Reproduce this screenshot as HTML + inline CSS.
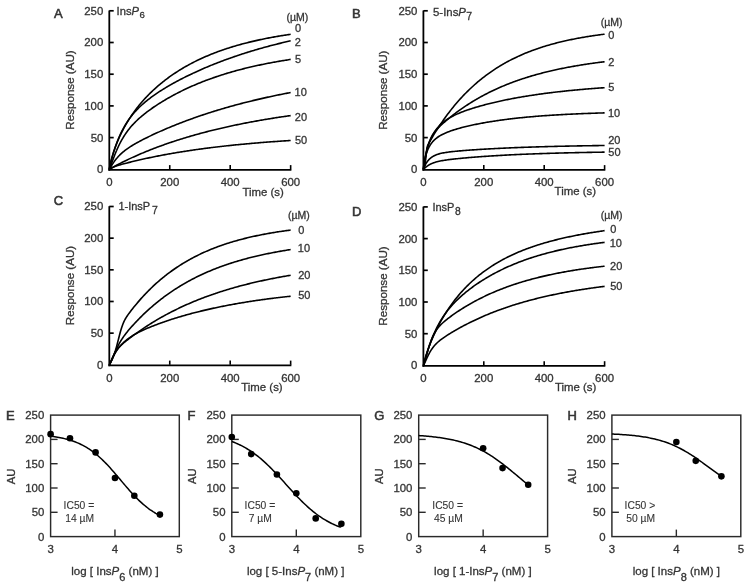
<!DOCTYPE html>
<html><head><meta charset="utf-8"><style>
html,body{margin:0;padding:0;background:#fff;}
body{width:751px;height:588px;overflow:hidden;}
svg{display:block;font-family:"Liberation Sans",sans-serif;filter:blur(0.4px);}
text{stroke:#333;stroke-width:0.3px;paint-order:stroke;}
</style></head><body>
<svg width="751" height="588" viewBox="0 0 751 588">
<rect width="751" height="588" fill="#fff"/>
<line x1="109.3" y1="10.5" x2="109.3" y2="170.7" stroke="#000" stroke-width="1.8"/>
<line x1="108.4" y1="169.8" x2="291.4" y2="169.8" stroke="#000" stroke-width="1.8"/>
<line x1="109.3" y1="137.6" x2="113.7" y2="137.6" stroke="#000" stroke-width="1.7"/>
<line x1="109.3" y1="105.9" x2="113.7" y2="105.9" stroke="#000" stroke-width="1.7"/>
<line x1="109.3" y1="74.2" x2="113.7" y2="74.2" stroke="#000" stroke-width="1.7"/>
<line x1="109.3" y1="42.5" x2="113.7" y2="42.5" stroke="#000" stroke-width="1.7"/>
<line x1="109.3" y1="10.8" x2="113.7" y2="10.8" stroke="#000" stroke-width="1.7"/>
<line x1="169.75" y1="169.3" x2="169.75" y2="165.1" stroke="#000" stroke-width="1.6"/>
<line x1="230.2" y1="169.3" x2="230.2" y2="165.1" stroke="#000" stroke-width="1.6"/>
<line x1="290.65" y1="169.3" x2="290.65" y2="165.1" stroke="#000" stroke-width="1.6"/>
<text x="103.3" y="173.2" font-size="11.4" text-anchor="end" fill="#333" >0</text>
<text x="103.3" y="141.5" font-size="11.4" text-anchor="end" fill="#333" >50</text>
<text x="103.3" y="109.8" font-size="11.4" text-anchor="end" fill="#333" >100</text>
<text x="103.3" y="78.1" font-size="11.4" text-anchor="end" fill="#333" >150</text>
<text x="103.3" y="46.4" font-size="11.4" text-anchor="end" fill="#333" >200</text>
<text x="103.3" y="14.7" font-size="11.4" text-anchor="end" fill="#333" >250</text>
<text x="109.3" y="186.3" font-size="11.4" text-anchor="middle" fill="#333" >0</text>
<text x="169.75" y="186.3" font-size="11.4" text-anchor="middle" fill="#333" >200</text>
<text x="230.2" y="186.3" font-size="11.4" text-anchor="middle" fill="#333" >400</text>
<text x="290.65" y="186.3" font-size="11.4" text-anchor="middle" fill="#333" >600</text>
<text x="242.5" y="195.5" font-size="11.4" text-anchor="start" fill="#333" >Time (s)</text>
<text x="0" y="0" font-size="11.6" text-anchor="middle" fill="#333" transform="translate(73.6,90) rotate(-90)">Response (AU)</text>
<text x="54" y="17.9" font-size="13" text-anchor="start" fill="#333" style="stroke-width:0.55px">A</text>
<text x="116.6" y="14.8" font-size="11.2" fill="#333">Ins<tspan font-style="italic">P</tspan><tspan dx="0.5" dy="3.0" font-size="9.6">6</tspan></text>
<text x="286.5" y="20.6" font-size="10.5" text-anchor="start" fill="#333" >(µM)</text>
<path d="M109.3,169.3 L109.45,168.15 L109.6,167.26 L109.75,166.45 L109.9,165.69 L110.06,164.96 L110.21,164.27 L110.36,163.6 L110.51,162.94 L110.66,162.31 L110.81,161.69 L110.96,161.09 L111.11,160.49 L111.26,159.91 L111.42,159.35 L111.57,158.79 L111.72,158.24 L111.87,157.7 L112.02,157.17 L112.17,156.64 L112.32,156.13 L112.47,155.62 L112.62,155.12 L112.78,154.62 L112.93,154.13 L113.08,153.65 L113.23,153.18 L113.38,152.7 L113.53,152.24 L113.68,151.78 L113.83,151.32 L113.98,150.87 L114.14,150.43 L114.29,149.99 L114.44,149.55 L114.59,149.12 L114.74,148.69 L114.89,148.27 L115.04,147.85 L115.19,147.43 L115.34,147.02 L115.5,146.61 L115.65,146.21 L115.8,145.81 L115.95,145.41 L116.1,145.02 L116.25,144.63 L116.4,144.24 L116.55,143.86 L116.71,143.48 L116.86,143.1 L117.01,142.72 L117.16,142.35 L117.31,141.98 L117.46,141.61 L117.61,141.25 L117.76,140.89 L117.91,140.53 L118.07,140.18 L118.22,139.82 L118.37,139.47 L118.52,139.12 L119.6,136.7 L120.68,134.38 L121.77,132.17 L122.85,130.05 L123.93,128 L125.01,126.04 L126.1,124.14 L127.18,122.31 L128.26,120.53 L129.34,118.81 L130.43,117.15 L131.51,115.53 L132.59,113.96 L133.67,112.43 L134.76,110.94 L135.84,109.49 L136.92,108.07 L138.01,106.7 L139.09,105.35 L140.17,104.03 L141.25,102.75 L142.34,101.49 L143.42,100.27 L144.5,99.07 L145.58,97.89 L146.67,96.74 L147.75,95.61 L148.83,94.5 L149.91,93.42 L151,92.36 L152.08,91.32 L153.16,90.29 L154.24,89.29 L155.33,88.31 L156.41,87.34 L157.49,86.39 L158.57,85.46 L159.66,84.54 L160.74,83.64 L161.82,82.76 L162.9,81.89 L163.99,81.03 L165.07,80.19 L166.15,79.37 L167.24,78.55 L168.32,77.76 L169.4,76.97 L170.48,76.2 L171.57,75.44 L172.65,74.69 L173.73,73.95 L174.81,73.22 L175.9,72.51 L176.98,71.81 L178.06,71.12 L179.14,70.43 L180.23,69.76 L181.31,69.1 L182.39,68.45 L183.47,67.81 L184.56,67.18 L185.64,66.56 L186.72,65.95 L187.8,65.35 L188.89,64.75 L189.97,64.17 L191.05,63.59 L192.13,63.02 L193.22,62.46 L194.3,61.91 L195.38,61.37 L196.46,60.84 L197.55,60.31 L198.63,59.79 L199.71,59.28 L200.8,58.77 L201.88,58.27 L202.96,57.78 L204.04,57.3 L205.13,56.82 L206.21,56.35 L207.29,55.89 L208.37,55.44 L209.46,54.99 L210.54,54.54 L211.62,54.11 L212.7,53.67 L213.79,53.25 L214.87,52.83 L215.95,52.42 L217.03,52.01 L218.12,51.61 L219.2,51.22 L220.28,50.83 L221.36,50.44 L222.45,50.06 L223.53,49.69 L224.61,49.32 L225.69,48.96 L226.78,48.6 L227.86,48.24 L228.94,47.9 L230.03,47.55 L231.11,47.21 L232.19,46.88 L233.27,46.55 L234.36,46.23 L235.44,45.91 L236.52,45.59 L237.6,45.28 L238.69,44.97 L239.77,44.67 L240.85,44.37 L241.93,44.08 L243.02,43.79 L244.1,43.5 L245.18,43.22 L246.26,42.94 L247.35,42.66 L248.43,42.39 L249.51,42.13 L250.59,41.86 L251.68,41.6 L252.76,41.35 L253.84,41.1 L254.92,40.85 L256.01,40.6 L257.09,40.36 L258.17,40.12 L259.25,39.88 L260.34,39.65 L261.42,39.42 L262.5,39.2 L263.59,38.97 L264.67,38.75 L265.75,38.54 L266.83,38.32 L267.92,38.11 L269,37.9 L270.08,37.7 L271.16,37.5 L272.25,37.3 L273.33,37.1 L274.41,36.91 L275.49,36.71 L276.58,36.53 L277.66,36.34 L278.74,36.16 L279.82,35.97 L280.91,35.8 L281.99,35.62 L283.07,35.45 L284.15,35.27 L285.24,35.11 L286.32,34.94 L287.4,34.77 L288.48,34.61 L289.57,34.45 L290.65,34.29" fill="none" stroke="#000" stroke-width="1.6" stroke-linejoin="round" stroke-linecap="butt"/>
<text x="294.97" y="32" font-size="11" text-anchor="start" fill="#333" >0</text>
<path d="M109.3,169.3 L109.45,168.55 L109.6,167.83 L109.75,167.13 L109.9,166.45 L110.06,165.78 L110.21,165.12 L110.36,164.47 L110.51,163.83 L110.66,163.19 L110.81,162.57 L110.96,161.96 L111.11,161.35 L111.26,160.75 L111.42,160.16 L111.57,159.57 L111.72,158.99 L111.87,158.42 L112.02,157.86 L112.17,157.3 L112.32,156.75 L112.47,156.21 L112.62,155.67 L112.78,155.13 L112.93,154.61 L113.08,154.09 L113.23,153.57 L113.38,153.06 L113.53,152.56 L113.68,152.06 L113.83,151.57 L113.98,151.08 L114.14,150.59 L114.29,150.12 L114.44,149.64 L114.59,149.17 L114.74,148.71 L114.89,148.25 L115.04,147.8 L115.19,147.35 L115.34,146.9 L115.5,146.46 L115.65,146.03 L115.8,145.6 L115.95,145.17 L116.1,144.74 L116.25,144.32 L116.4,143.91 L116.55,143.5 L116.71,143.09 L116.86,142.69 L117.01,142.29 L117.16,141.89 L117.31,141.5 L117.46,141.11 L117.61,140.73 L117.76,140.35 L117.91,139.97 L118.07,139.59 L118.22,139.22 L118.37,138.85 L118.52,138.49 L119.6,135.97 L120.68,133.61 L121.77,131.39 L122.85,129.29 L123.93,127.31 L125.01,125.44 L126.1,123.66 L127.18,121.97 L128.26,120.36 L129.34,118.83 L130.43,117.36 L131.51,115.96 L132.59,114.61 L133.67,113.32 L134.76,112.08 L135.84,110.89 L136.92,109.73 L138.01,108.62 L139.09,107.54 L140.17,106.5 L141.25,105.48 L142.34,104.5 L143.42,103.54 L144.5,102.61 L145.58,101.7 L146.67,100.81 L147.75,99.94 L148.83,99.09 L149.91,98.26 L151,97.45 L152.08,96.65 L153.16,95.87 L154.24,95.1 L155.33,94.35 L156.41,93.61 L157.49,92.88 L158.57,92.16 L159.66,91.45 L160.74,90.75 L161.82,90.06 L162.9,89.39 L163.99,88.72 L165.07,88.06 L166.15,87.4 L167.24,86.76 L168.32,86.12 L169.4,85.49 L170.48,84.87 L171.57,84.26 L172.65,83.65 L173.73,83.05 L174.81,82.45 L175.9,81.86 L176.98,81.28 L178.06,80.7 L179.14,80.13 L180.23,79.56 L181.31,79 L182.39,78.44 L183.47,77.89 L184.56,77.35 L185.64,76.8 L186.72,76.27 L187.8,75.74 L188.89,75.21 L189.97,74.69 L191.05,74.17 L192.13,73.66 L193.22,73.15 L194.3,72.65 L195.38,72.15 L196.46,71.65 L197.55,71.16 L198.63,70.67 L199.71,70.19 L200.8,69.71 L201.88,69.24 L202.96,68.76 L204.04,68.3 L205.13,67.83 L206.21,67.37 L207.29,66.92 L208.37,66.46 L209.46,66.02 L210.54,65.57 L211.62,65.13 L212.7,64.69 L213.79,64.26 L214.87,63.83 L215.95,63.4 L217.03,62.98 L218.12,62.55 L219.2,62.14 L220.28,61.72 L221.36,61.31 L222.45,60.91 L223.53,60.5 L224.61,60.1 L225.69,59.7 L226.78,59.31 L227.86,58.92 L228.94,58.53 L230.03,58.14 L231.11,57.76 L232.19,57.38 L233.27,57.01 L234.36,56.63 L235.44,56.26 L236.52,55.9 L237.6,55.53 L238.69,55.17 L239.77,54.81 L240.85,54.46 L241.93,54.1 L243.02,53.75 L244.1,53.41 L245.18,53.06 L246.26,52.72 L247.35,52.38 L248.43,52.05 L249.51,51.71 L250.59,51.38 L251.68,51.05 L252.76,50.73 L253.84,50.4 L254.92,50.08 L256.01,49.76 L257.09,49.45 L258.17,49.13 L259.25,48.82 L260.34,48.52 L261.42,48.21 L262.5,47.91 L263.59,47.6 L264.67,47.31 L265.75,47.01 L266.83,46.72 L267.92,46.42 L269,46.13 L270.08,45.85 L271.16,45.56 L272.25,45.28 L273.33,45 L274.41,44.72 L275.49,44.45 L276.58,44.17 L277.66,43.9 L278.74,43.63 L279.82,43.36 L280.91,43.1 L281.99,42.83 L283.07,42.57 L284.15,42.31 L285.24,42.06 L286.32,41.8 L287.4,41.55 L288.48,41.3 L289.57,41.05 L290.65,40.8" fill="none" stroke="#000" stroke-width="1.6" stroke-linejoin="round" stroke-linecap="butt"/>
<text x="294.85" y="45.8" font-size="11" text-anchor="start" fill="#333" >2</text>
<path d="M109.3,169.3 L109.45,168.98 L109.6,168.63 L109.75,168.25 L109.9,167.87 L110.06,167.48 L110.21,167.08 L110.36,166.67 L110.51,166.26 L110.66,165.85 L110.81,165.44 L110.96,165.03 L111.11,164.61 L111.26,164.2 L111.42,163.78 L111.57,163.37 L111.72,162.95 L111.87,162.54 L112.02,162.12 L112.17,161.71 L112.32,161.3 L112.47,160.89 L112.62,160.48 L112.78,160.07 L112.93,159.66 L113.08,159.26 L113.23,158.86 L113.38,158.46 L113.53,158.06 L113.68,157.66 L113.83,157.26 L113.98,156.87 L114.14,156.48 L114.29,156.09 L114.44,155.71 L114.59,155.32 L114.74,154.94 L114.89,154.56 L115.04,154.19 L115.19,153.81 L115.34,153.44 L115.5,153.07 L115.65,152.7 L115.8,152.34 L115.95,151.98 L116.1,151.62 L116.25,151.26 L116.4,150.91 L116.55,150.56 L116.71,150.21 L116.86,149.86 L117.01,149.52 L117.16,149.17 L117.31,148.83 L117.46,148.5 L117.61,148.16 L117.76,147.83 L117.91,147.5 L118.07,147.18 L118.22,146.85 L118.37,146.53 L118.52,146.21 L119.6,144 L120.68,141.9 L121.77,139.92 L122.85,138.05 L123.93,136.27 L125.01,134.59 L126.1,133 L127.18,131.48 L128.26,130.04 L129.34,128.66 L130.43,127.34 L131.51,126.08 L132.59,124.87 L133.67,123.71 L134.76,122.59 L135.84,121.5 L136.92,120.46 L138.01,119.44 L139.09,118.46 L140.17,117.5 L141.25,116.57 L142.34,115.66 L143.42,114.77 L144.5,113.9 L145.58,113.05 L146.67,112.21 L147.75,111.4 L148.83,110.59 L149.91,109.81 L151,109.03 L152.08,108.27 L153.16,107.52 L154.24,106.78 L155.33,106.05 L156.41,105.34 L157.49,104.63 L158.57,103.93 L159.66,103.24 L160.74,102.56 L161.82,101.9 L162.9,101.23 L163.99,100.58 L165.07,99.94 L166.15,99.3 L167.24,98.67 L168.32,98.05 L169.4,97.44 L170.48,96.83 L171.57,96.23 L172.65,95.64 L173.73,95.06 L174.81,94.48 L175.9,93.91 L176.98,93.34 L178.06,92.79 L179.14,92.23 L180.23,91.69 L181.31,91.15 L182.39,90.62 L183.47,90.09 L184.56,89.58 L185.64,89.06 L186.72,88.55 L187.8,88.05 L188.89,87.56 L189.97,87.07 L191.05,86.58 L192.13,86.1 L193.22,85.63 L194.3,85.16 L195.38,84.7 L196.46,84.24 L197.55,83.79 L198.63,83.35 L199.71,82.91 L200.8,82.47 L201.88,82.04 L202.96,81.61 L204.04,81.19 L205.13,80.78 L206.21,80.36 L207.29,79.96 L208.37,79.56 L209.46,79.16 L210.54,78.77 L211.62,78.38 L212.7,77.99 L213.79,77.62 L214.87,77.24 L215.95,76.87 L217.03,76.5 L218.12,76.14 L219.2,75.78 L220.28,75.43 L221.36,75.08 L222.45,74.74 L223.53,74.4 L224.61,74.06 L225.69,73.72 L226.78,73.39 L227.86,73.07 L228.94,72.75 L230.03,72.43 L231.11,72.11 L232.19,71.8 L233.27,71.5 L234.36,71.19 L235.44,70.89 L236.52,70.59 L237.6,70.3 L238.69,70.01 L239.77,69.72 L240.85,69.44 L241.93,69.16 L243.02,68.88 L244.1,68.61 L245.18,68.34 L246.26,68.07 L247.35,67.81 L248.43,67.55 L249.51,67.29 L250.59,67.04 L251.68,66.78 L252.76,66.53 L253.84,66.29 L254.92,66.04 L256.01,65.8 L257.09,65.57 L258.17,65.33 L259.25,65.1 L260.34,64.87 L261.42,64.64 L262.5,64.42 L263.59,64.2 L264.67,63.98 L265.75,63.76 L266.83,63.54 L267.92,63.33 L269,63.12 L270.08,62.92 L271.16,62.71 L272.25,62.51 L273.33,62.31 L274.41,62.11 L275.49,61.92 L276.58,61.73 L277.66,61.53 L278.74,61.35 L279.82,61.16 L280.91,60.98 L281.99,60.79 L283.07,60.61 L284.15,60.44 L285.24,60.26 L286.32,60.09 L287.4,59.92 L288.48,59.75 L289.57,59.58 L290.65,59.41" fill="none" stroke="#000" stroke-width="1.6" stroke-linejoin="round" stroke-linecap="butt"/>
<text x="294.96" y="62.5" font-size="11" text-anchor="start" fill="#333" >5</text>
<path d="M109.3,169.3 L109.45,169.07 L109.6,168.82 L109.75,168.57 L109.9,168.31 L110.06,168.06 L110.21,167.8 L110.36,167.54 L110.51,167.29 L110.66,167.03 L110.81,166.78 L110.96,166.53 L111.11,166.28 L111.26,166.03 L111.42,165.78 L111.57,165.54 L111.72,165.29 L111.87,165.05 L112.02,164.81 L112.17,164.57 L112.32,164.34 L112.47,164.1 L112.62,163.87 L112.78,163.64 L112.93,163.41 L113.08,163.19 L113.23,162.96 L113.38,162.74 L113.53,162.52 L113.68,162.3 L113.83,162.09 L113.98,161.87 L114.14,161.66 L114.29,161.45 L114.44,161.24 L114.59,161.04 L114.74,160.83 L114.89,160.63 L115.04,160.43 L115.19,160.23 L115.34,160.04 L115.5,159.84 L115.65,159.65 L115.8,159.46 L115.95,159.27 L116.1,159.08 L116.25,158.9 L116.4,158.71 L116.55,158.53 L116.71,158.35 L116.86,158.17 L117.01,157.99 L117.16,157.82 L117.31,157.64 L117.46,157.47 L117.61,157.3 L117.76,157.13 L117.91,156.96 L118.07,156.8 L118.22,156.63 L118.37,156.47 L118.52,156.31 L119.6,155.19 L120.68,154.13 L121.77,153.14 L122.85,152.19 L123.93,151.3 L125.01,150.44 L126.1,149.62 L127.18,148.84 L128.26,148.08 L129.34,147.35 L130.43,146.65 L131.51,145.96 L132.59,145.3 L133.67,144.65 L134.76,144.01 L135.84,143.39 L136.92,142.78 L138.01,142.18 L139.09,141.59 L140.17,141.02 L141.25,140.44 L142.34,139.88 L143.42,139.33 L144.5,138.78 L145.58,138.23 L146.67,137.7 L147.75,137.17 L148.83,136.64 L149.91,136.12 L151,135.6 L152.08,135.09 L153.16,134.58 L154.24,134.08 L155.33,133.58 L156.41,133.09 L157.49,132.59 L158.57,132.11 L159.66,131.62 L160.74,131.14 L161.82,130.67 L162.9,130.19 L163.99,129.72 L165.07,129.26 L166.15,128.8 L167.24,128.34 L168.32,127.88 L169.4,127.43 L170.48,126.98 L171.57,126.53 L172.65,126.09 L173.73,125.65 L174.81,125.21 L175.9,124.78 L176.98,124.35 L178.06,123.92 L179.14,123.5 L180.23,123.08 L181.31,122.66 L182.39,122.24 L183.47,121.83 L184.56,121.42 L185.64,121.01 L186.72,120.61 L187.8,120.21 L188.89,119.81 L189.97,119.41 L191.05,119.02 L192.13,118.63 L193.22,118.24 L194.3,117.86 L195.38,117.48 L196.46,117.1 L197.55,116.72 L198.63,116.35 L199.71,115.98 L200.8,115.61 L201.88,115.24 L202.96,114.88 L204.04,114.52 L205.13,114.16 L206.21,113.8 L207.29,113.45 L208.37,113.1 L209.46,112.75 L210.54,112.41 L211.62,112.06 L212.7,111.72 L213.79,111.38 L214.87,111.05 L215.95,110.71 L217.03,110.38 L218.12,110.05 L219.2,109.72 L220.28,109.4 L221.36,109.08 L222.45,108.76 L223.53,108.44 L224.61,108.12 L225.69,107.81 L226.78,107.5 L227.86,107.19 L228.94,106.88 L230.03,106.58 L231.11,106.27 L232.19,105.97 L233.27,105.67 L234.36,105.38 L235.44,105.08 L236.52,104.79 L237.6,104.5 L238.69,104.21 L239.77,103.93 L240.85,103.64 L241.93,103.36 L243.02,103.08 L244.1,102.8 L245.18,102.53 L246.26,102.25 L247.35,101.98 L248.43,101.71 L249.51,101.44 L250.59,101.17 L251.68,100.91 L252.76,100.65 L253.84,100.38 L254.92,100.13 L256.01,99.87 L257.09,99.61 L258.17,99.36 L259.25,99.11 L260.34,98.86 L261.42,98.61 L262.5,98.36 L263.59,98.11 L264.67,97.87 L265.75,97.63 L266.83,97.39 L267.92,97.15 L269,96.91 L270.08,96.68 L271.16,96.45 L272.25,96.21 L273.33,95.98 L274.41,95.76 L275.49,95.53 L276.58,95.3 L277.66,95.08 L278.74,94.86 L279.82,94.64 L280.91,94.42 L281.99,94.2 L283.07,93.99 L284.15,93.77 L285.24,93.56 L286.32,93.35 L287.4,93.14 L288.48,92.93 L289.57,92.72 L290.65,92.52" fill="none" stroke="#000" stroke-width="1.6" stroke-linejoin="round" stroke-linecap="butt"/>
<text x="294.56" y="96.2" font-size="11" text-anchor="start" fill="#333" >10</text>
<path d="M109.3,169.3 L109.45,169.2 L109.6,169.1 L109.75,169.01 L109.9,168.91 L110.06,168.82 L110.21,168.73 L110.36,168.64 L110.51,168.56 L110.66,168.47 L110.81,168.38 L110.96,168.29 L111.11,168.2 L111.26,168.12 L111.42,168.03 L111.57,167.95 L111.72,167.86 L111.87,167.77 L112.02,167.69 L112.17,167.6 L112.32,167.52 L112.47,167.44 L112.62,167.35 L112.78,167.27 L112.93,167.18 L113.08,167.1 L113.23,167.02 L113.38,166.93 L113.53,166.85 L113.68,166.77 L113.83,166.69 L113.98,166.6 L114.14,166.52 L114.29,166.44 L114.44,166.36 L114.59,166.27 L114.74,166.19 L114.89,166.11 L115.04,166.03 L115.19,165.95 L115.34,165.87 L115.5,165.79 L115.65,165.71 L115.8,165.63 L115.95,165.55 L116.1,165.47 L116.25,165.39 L116.4,165.31 L116.55,165.23 L116.71,165.15 L116.86,165.07 L117.01,164.99 L117.16,164.91 L117.31,164.83 L117.46,164.75 L117.61,164.67 L117.76,164.59 L117.91,164.51 L118.07,164.44 L118.22,164.36 L118.37,164.28 L118.52,164.2 L119.6,163.64 L120.68,163.09 L121.77,162.55 L122.85,162.01 L123.93,161.48 L125.01,160.95 L126.1,160.43 L127.18,159.91 L128.26,159.39 L129.34,158.89 L130.43,158.38 L131.51,157.88 L132.59,157.39 L133.67,156.9 L134.76,156.41 L135.84,155.93 L136.92,155.45 L138.01,154.98 L139.09,154.51 L140.17,154.04 L141.25,153.58 L142.34,153.12 L143.42,152.67 L144.5,152.22 L145.58,151.78 L146.67,151.33 L147.75,150.9 L148.83,150.46 L149.91,150.03 L151,149.6 L152.08,149.18 L153.16,148.76 L154.24,148.34 L155.33,147.93 L156.41,147.52 L157.49,147.12 L158.57,146.71 L159.66,146.31 L160.74,145.92 L161.82,145.52 L162.9,145.13 L163.99,144.75 L165.07,144.36 L166.15,143.98 L167.24,143.61 L168.32,143.23 L169.4,142.86 L170.48,142.49 L171.57,142.13 L172.65,141.77 L173.73,141.41 L174.81,141.05 L175.9,140.7 L176.98,140.35 L178.06,140 L179.14,139.66 L180.23,139.32 L181.31,138.98 L182.39,138.64 L183.47,138.31 L184.56,137.98 L185.64,137.65 L186.72,137.32 L187.8,137 L188.89,136.68 L189.97,136.36 L191.05,136.05 L192.13,135.73 L193.22,135.42 L194.3,135.11 L195.38,134.81 L196.46,134.51 L197.55,134.21 L198.63,133.91 L199.71,133.61 L200.8,133.32 L201.88,133.03 L202.96,132.74 L204.04,132.45 L205.13,132.17 L206.21,131.89 L207.29,131.61 L208.37,131.33 L209.46,131.06 L210.54,130.78 L211.62,130.51 L212.7,130.25 L213.79,129.98 L214.87,129.72 L215.95,129.45 L217.03,129.19 L218.12,128.94 L219.2,128.68 L220.28,128.43 L221.36,128.17 L222.45,127.92 L223.53,127.68 L224.61,127.43 L225.69,127.19 L226.78,126.94 L227.86,126.7 L228.94,126.47 L230.03,126.23 L231.11,126 L232.19,125.76 L233.27,125.53 L234.36,125.3 L235.44,125.08 L236.52,124.85 L237.6,124.63 L238.69,124.41 L239.77,124.19 L240.85,123.97 L241.93,123.75 L243.02,123.54 L244.1,123.32 L245.18,123.11 L246.26,122.9 L247.35,122.69 L248.43,122.49 L249.51,122.28 L250.59,122.08 L251.68,121.88 L252.76,121.68 L253.84,121.48 L254.92,121.28 L256.01,121.09 L257.09,120.89 L258.17,120.7 L259.25,120.51 L260.34,120.32 L261.42,120.13 L262.5,119.95 L263.59,119.76 L264.67,119.58 L265.75,119.4 L266.83,119.22 L267.92,119.04 L269,118.86 L270.08,118.68 L271.16,118.51 L272.25,118.34 L273.33,118.16 L274.41,117.99 L275.49,117.82 L276.58,117.65 L277.66,117.49 L278.74,117.32 L279.82,117.16 L280.91,117 L281.99,116.83 L283.07,116.67 L284.15,116.51 L285.24,116.36 L286.32,116.2 L287.4,116.04 L288.48,115.89 L289.57,115.74 L290.65,115.59" fill="none" stroke="#000" stroke-width="1.6" stroke-linejoin="round" stroke-linecap="butt"/>
<text x="294.85" y="120.7" font-size="11" text-anchor="start" fill="#333" >20</text>
<path d="M109.3,169.3 L109.45,169.24 L109.6,169.18 L109.75,169.1 L109.9,169.03 L110.06,168.95 L110.21,168.87 L110.36,168.79 L110.51,168.71 L110.66,168.63 L110.81,168.54 L110.96,168.46 L111.11,168.37 L111.26,168.29 L111.42,168.21 L111.57,168.12 L111.72,168.04 L111.87,167.96 L112.02,167.88 L112.17,167.8 L112.32,167.72 L112.47,167.64 L112.62,167.56 L112.78,167.49 L112.93,167.41 L113.08,167.34 L113.23,167.26 L113.38,167.19 L113.53,167.12 L113.68,167.05 L113.83,166.98 L113.98,166.91 L114.14,166.85 L114.29,166.78 L114.44,166.71 L114.59,166.65 L114.74,166.59 L114.89,166.53 L115.04,166.47 L115.19,166.41 L115.34,166.35 L115.5,166.29 L115.65,166.23 L115.8,166.18 L115.95,166.12 L116.1,166.07 L116.25,166.01 L116.4,165.96 L116.55,165.91 L116.71,165.85 L116.86,165.8 L117.01,165.75 L117.16,165.7 L117.31,165.65 L117.46,165.6 L117.61,165.55 L117.76,165.51 L117.91,165.46 L118.07,165.41 L118.22,165.36 L118.37,165.32 L118.52,165.27 L119.6,164.95 L120.68,164.64 L121.77,164.34 L122.85,164.05 L123.93,163.76 L125.01,163.48 L126.1,163.2 L127.18,162.92 L128.26,162.64 L129.34,162.37 L130.43,162.1 L131.51,161.83 L132.59,161.57 L133.67,161.3 L134.76,161.04 L135.84,160.79 L136.92,160.53 L138.01,160.28 L139.09,160.03 L140.17,159.78 L141.25,159.53 L142.34,159.29 L143.42,159.05 L144.5,158.81 L145.58,158.57 L146.67,158.34 L147.75,158.1 L148.83,157.87 L149.91,157.64 L151,157.42 L152.08,157.19 L153.16,156.97 L154.24,156.75 L155.33,156.53 L156.41,156.32 L157.49,156.1 L158.57,155.89 L159.66,155.68 L160.74,155.47 L161.82,155.26 L162.9,155.06 L163.99,154.86 L165.07,154.66 L166.15,154.46 L167.24,154.26 L168.32,154.07 L169.4,153.87 L170.48,153.68 L171.57,153.49 L172.65,153.3 L173.73,153.12 L174.81,152.93 L175.9,152.75 L176.98,152.57 L178.06,152.39 L179.14,152.21 L180.23,152.04 L181.31,151.86 L182.39,151.69 L183.47,151.52 L184.56,151.35 L185.64,151.18 L186.72,151.01 L187.8,150.85 L188.89,150.68 L189.97,150.52 L191.05,150.36 L192.13,150.2 L193.22,150.05 L194.3,149.89 L195.38,149.73 L196.46,149.58 L197.55,149.43 L198.63,149.28 L199.71,149.13 L200.8,148.98 L201.88,148.84 L202.96,148.69 L204.04,148.55 L205.13,148.41 L206.21,148.27 L207.29,148.13 L208.37,147.99 L209.46,147.85 L210.54,147.71 L211.62,147.58 L212.7,147.45 L213.79,147.31 L214.87,147.18 L215.95,147.05 L217.03,146.93 L218.12,146.8 L219.2,146.67 L220.28,146.55 L221.36,146.42 L222.45,146.3 L223.53,146.18 L224.61,146.06 L225.69,145.94 L226.78,145.82 L227.86,145.71 L228.94,145.59 L230.03,145.48 L231.11,145.36 L232.19,145.25 L233.27,145.14 L234.36,145.03 L235.44,144.92 L236.52,144.81 L237.6,144.7 L238.69,144.59 L239.77,144.49 L240.85,144.38 L241.93,144.28 L243.02,144.18 L244.1,144.08 L245.18,143.98 L246.26,143.88 L247.35,143.78 L248.43,143.68 L249.51,143.58 L250.59,143.49 L251.68,143.39 L252.76,143.3 L253.84,143.2 L254.92,143.11 L256.01,143.02 L257.09,142.93 L258.17,142.84 L259.25,142.75 L260.34,142.66 L261.42,142.57 L262.5,142.48 L263.59,142.4 L264.67,142.31 L265.75,142.23 L266.83,142.14 L267.92,142.06 L269,141.98 L270.08,141.9 L271.16,141.82 L272.25,141.74 L273.33,141.66 L274.41,141.58 L275.49,141.5 L276.58,141.43 L277.66,141.35 L278.74,141.27 L279.82,141.2 L280.91,141.12 L281.99,141.05 L283.07,140.98 L284.15,140.91 L285.24,140.83 L286.32,140.76 L287.4,140.69 L288.48,140.62 L289.57,140.56 L290.65,140.49" fill="none" stroke="#000" stroke-width="1.6" stroke-linejoin="round" stroke-linecap="butt"/>
<text x="294.96" y="144.1" font-size="11" text-anchor="start" fill="#333" >50</text>
<line x1="423.4" y1="10.5" x2="423.4" y2="170.7" stroke="#000" stroke-width="1.8"/>
<line x1="422.5" y1="169.8" x2="605.35" y2="169.8" stroke="#000" stroke-width="1.8"/>
<line x1="423.4" y1="137.6" x2="427.8" y2="137.6" stroke="#000" stroke-width="1.7"/>
<line x1="423.4" y1="105.9" x2="427.8" y2="105.9" stroke="#000" stroke-width="1.7"/>
<line x1="423.4" y1="74.2" x2="427.8" y2="74.2" stroke="#000" stroke-width="1.7"/>
<line x1="423.4" y1="42.5" x2="427.8" y2="42.5" stroke="#000" stroke-width="1.7"/>
<line x1="423.4" y1="10.8" x2="427.8" y2="10.8" stroke="#000" stroke-width="1.7"/>
<line x1="483.8" y1="169.3" x2="483.8" y2="165.1" stroke="#000" stroke-width="1.6"/>
<line x1="544.2" y1="169.3" x2="544.2" y2="165.1" stroke="#000" stroke-width="1.6"/>
<line x1="604.6" y1="169.3" x2="604.6" y2="165.1" stroke="#000" stroke-width="1.6"/>
<text x="417.4" y="173.2" font-size="11.4" text-anchor="end" fill="#333" >0</text>
<text x="417.4" y="141.5" font-size="11.4" text-anchor="end" fill="#333" >50</text>
<text x="417.4" y="109.8" font-size="11.4" text-anchor="end" fill="#333" >100</text>
<text x="417.4" y="78.1" font-size="11.4" text-anchor="end" fill="#333" >150</text>
<text x="417.4" y="46.4" font-size="11.4" text-anchor="end" fill="#333" >200</text>
<text x="417.4" y="14.7" font-size="11.4" text-anchor="end" fill="#333" >250</text>
<text x="423.4" y="186.3" font-size="11.4" text-anchor="middle" fill="#333" >0</text>
<text x="483.8" y="186.3" font-size="11.4" text-anchor="middle" fill="#333" >200</text>
<text x="544.2" y="186.3" font-size="11.4" text-anchor="middle" fill="#333" >400</text>
<text x="604.6" y="186.3" font-size="11.4" text-anchor="middle" fill="#333" >600</text>
<text x="554.6" y="195.4" font-size="11.4" text-anchor="start" fill="#333" >Time (s)</text>
<text x="0" y="0" font-size="11.6" text-anchor="middle" fill="#333" transform="translate(387.2,90.2) rotate(-90)">Response (AU)</text>
<text x="351.9" y="17.6" font-size="13" text-anchor="start" fill="#333" style="stroke-width:0.55px">B</text>
<text x="433.0" y="15.6" font-size="11.4" fill="#333">5-Ins<tspan font-style="italic">P</tspan><tspan dx="0.2" dy="4.3" font-size="10.5">7</tspan></text>
<text x="600.8" y="25.8" font-size="10.5" text-anchor="start" fill="#333" >(µM)</text>
<path d="M423.4,169.3 L423.55,169.01 L423.7,168.72 L423.85,168.42 L424,168.1 L424.15,167.76 L424.31,167.37 L424.46,166.92 L424.61,166.4 L424.76,165.79 L424.91,165.07 L425.06,164.23 L425.21,163.25 L425.36,162.15 L425.51,160.91 L425.66,159.56 L425.82,158.11 L425.97,156.61 L426.12,155.09 L426.27,153.6 L426.42,152.18 L426.57,150.87 L426.72,149.69 L426.87,148.67 L427.02,147.8 L427.17,147.08 L427.33,146.48 L427.48,146 L427.63,145.59 L427.78,145.23 L427.93,144.91 L428.08,144.62 L428.23,144.34 L428.38,144.06 L428.53,143.79 L428.69,143.52 L428.84,143.25 L428.99,142.99 L429.14,142.72 L429.29,142.45 L429.44,142.19 L429.59,141.92 L429.74,141.66 L429.89,141.4 L430.04,141.13 L430.19,140.87 L430.35,140.61 L430.5,140.35 L430.65,140.09 L430.8,139.83 L430.95,139.57 L431.1,139.31 L431.25,139.05 L431.4,138.79 L431.55,138.53 L431.7,138.28 L431.86,138.02 L432.01,137.77 L432.16,137.51 L432.31,137.26 L432.46,137 L432.61,136.75 L433.69,134.95 L434.77,133.19 L435.86,131.45 L436.94,129.74 L438.02,128.06 L439.1,126.4 L440.18,124.77 L441.26,123.17 L442.35,121.59 L443.43,120.04 L444.51,118.52 L445.59,117.02 L446.67,115.54 L447.75,114.09 L448.84,112.66 L449.92,111.25 L451,109.87 L452.08,108.51 L453.16,107.17 L454.24,105.86 L455.33,104.56 L456.41,103.29 L457.49,102.03 L458.57,100.8 L459.65,99.58 L460.73,98.39 L461.82,97.22 L462.9,96.06 L463.98,94.92 L465.06,93.81 L466.14,92.7 L467.23,91.62 L468.31,90.56 L469.39,89.51 L470.47,88.48 L471.55,87.47 L472.63,86.47 L473.72,85.49 L474.8,84.52 L475.88,83.57 L476.96,82.64 L478.04,81.72 L479.12,80.81 L480.21,79.92 L481.29,79.05 L482.37,78.19 L483.45,77.34 L484.53,76.51 L485.61,75.69 L486.7,74.88 L487.78,74.09 L488.86,73.31 L489.94,72.54 L491.02,71.78 L492.1,71.04 L493.19,70.31 L494.27,69.59 L495.35,68.88 L496.43,68.19 L497.51,67.5 L498.59,66.83 L499.68,66.16 L500.76,65.51 L501.84,64.87 L502.92,64.24 L504,63.62 L505.08,63.01 L506.17,62.41 L507.25,61.81 L508.33,61.23 L509.41,60.66 L510.49,60.1 L511.57,59.54 L512.66,59 L513.74,58.46 L514.82,57.93 L515.9,57.42 L516.98,56.91 L518.06,56.4 L519.15,55.91 L520.23,55.42 L521.31,54.94 L522.39,54.47 L523.47,54.01 L524.55,53.56 L525.64,53.11 L526.72,52.67 L527.8,52.23 L528.88,51.81 L529.96,51.39 L531.04,50.98 L532.13,50.57 L533.21,50.17 L534.29,49.78 L535.37,49.39 L536.45,49.01 L537.54,48.64 L538.62,48.27 L539.7,47.91 L540.78,47.55 L541.86,47.2 L542.94,46.85 L544.03,46.51 L545.11,46.18 L546.19,45.85 L547.27,45.53 L548.35,45.21 L549.43,44.9 L550.52,44.59 L551.6,44.29 L552.68,43.99 L553.76,43.7 L554.84,43.41 L555.92,43.13 L557.01,42.85 L558.09,42.57 L559.17,42.3 L560.25,42.04 L561.33,41.78 L562.41,41.52 L563.5,41.27 L564.58,41.02 L565.66,40.77 L566.74,40.53 L567.82,40.3 L568.9,40.06 L569.99,39.83 L571.07,39.61 L572.15,39.39 L573.23,39.17 L574.31,38.95 L575.39,38.74 L576.48,38.53 L577.56,38.33 L578.64,38.13 L579.72,37.93 L580.8,37.74 L581.88,37.54 L582.97,37.36 L584.05,37.17 L585.13,36.99 L586.21,36.81 L587.29,36.63 L588.37,36.46 L589.46,36.29 L590.54,36.12 L591.62,35.95 L592.7,35.79 L593.78,35.63 L594.86,35.47 L595.95,35.32 L597.03,35.17 L598.11,35.02 L599.19,34.87 L600.27,34.72 L601.35,34.58 L602.44,34.44 L603.52,34.3 L604.6,34.17" fill="none" stroke="#000" stroke-width="1.6" stroke-linejoin="round" stroke-linecap="butt"/>
<text x="608.37" y="38.5" font-size="11" text-anchor="start" fill="#333" >0</text>
<path d="M423.4,169.3 L423.55,168.5 L423.7,167.59 L423.85,166.65 L424,165.7 L424.15,164.75 L424.31,163.8 L424.46,162.86 L424.61,161.94 L424.76,161.02 L424.91,160.13 L425.06,159.25 L425.21,158.39 L425.36,157.55 L425.51,156.73 L425.66,155.93 L425.82,155.15 L425.97,154.39 L426.12,153.64 L426.27,152.92 L426.42,152.21 L426.57,151.53 L426.72,150.86 L426.87,150.21 L427.02,149.58 L427.17,148.97 L427.33,148.37 L427.48,147.79 L427.63,147.23 L427.78,146.68 L427.93,146.15 L428.08,145.63 L428.23,145.12 L428.38,144.63 L428.53,144.16 L428.69,143.69 L428.84,143.24 L428.99,142.8 L429.14,142.38 L429.29,141.96 L429.44,141.56 L429.59,141.16 L429.74,140.78 L429.89,140.4 L430.04,140.04 L430.19,139.68 L430.35,139.34 L430.5,139 L430.65,138.67 L430.8,138.35 L430.95,138.04 L431.1,137.73 L431.25,137.43 L431.4,137.14 L431.55,136.85 L431.7,136.57 L431.86,136.29 L432.01,136.03 L432.16,135.76 L432.31,135.51 L432.46,135.25 L432.61,135 L433.69,133.36 L434.77,131.89 L435.86,130.56 L436.94,129.32 L438.02,128.17 L439.1,127.06 L440.18,126.01 L441.26,124.98 L442.35,123.99 L443.43,123.01 L444.51,122.06 L445.59,121.13 L446.67,120.2 L447.75,119.3 L448.84,118.41 L449.92,117.53 L451,116.66 L452.08,115.8 L453.16,114.96 L454.24,114.13 L455.33,113.31 L456.41,112.49 L457.49,111.69 L458.57,110.91 L459.65,110.13 L460.73,109.36 L461.82,108.6 L462.9,107.85 L463.98,107.11 L465.06,106.38 L466.14,105.67 L467.23,104.96 L468.31,104.26 L469.39,103.56 L470.47,102.88 L471.55,102.21 L472.63,101.55 L473.72,100.89 L474.8,100.24 L475.88,99.61 L476.96,98.98 L478.04,98.36 L479.12,97.74 L480.21,97.14 L481.29,96.54 L482.37,95.95 L483.45,95.37 L484.53,94.8 L485.61,94.23 L486.7,93.67 L487.78,93.12 L488.86,92.58 L489.94,92.04 L491.02,91.51 L492.1,90.99 L493.19,90.47 L494.27,89.96 L495.35,89.46 L496.43,88.97 L497.51,88.48 L498.59,87.99 L499.68,87.52 L500.76,87.05 L501.84,86.58 L502.92,86.13 L504,85.67 L505.08,85.23 L506.17,84.79 L507.25,84.36 L508.33,83.93 L509.41,83.5 L510.49,83.09 L511.57,82.68 L512.66,82.27 L513.74,81.87 L514.82,81.47 L515.9,81.08 L516.98,80.7 L518.06,80.32 L519.15,79.94 L520.23,79.57 L521.31,79.21 L522.39,78.85 L523.47,78.49 L524.55,78.14 L525.64,77.8 L526.72,77.46 L527.8,77.12 L528.88,76.79 L529.96,76.46 L531.04,76.13 L532.13,75.81 L533.21,75.5 L534.29,75.19 L535.37,74.88 L536.45,74.58 L537.54,74.28 L538.62,73.98 L539.7,73.69 L540.78,73.4 L541.86,73.12 L542.94,72.84 L544.03,72.57 L545.11,72.29 L546.19,72.02 L547.27,71.76 L548.35,71.5 L549.43,71.24 L550.52,70.98 L551.6,70.73 L552.68,70.48 L553.76,70.24 L554.84,70 L555.92,69.76 L557.01,69.52 L558.09,69.29 L559.17,69.06 L560.25,68.83 L561.33,68.61 L562.41,68.39 L563.5,68.17 L564.58,67.96 L565.66,67.75 L566.74,67.54 L567.82,67.33 L568.9,67.13 L569.99,66.93 L571.07,66.73 L572.15,66.54 L573.23,66.34 L574.31,66.15 L575.39,65.96 L576.48,65.78 L577.56,65.6 L578.64,65.42 L579.72,65.24 L580.8,65.06 L581.88,64.89 L582.97,64.72 L584.05,64.55 L585.13,64.38 L586.21,64.22 L587.29,64.06 L588.37,63.89 L589.46,63.74 L590.54,63.58 L591.62,63.43 L592.7,63.28 L593.78,63.13 L594.86,62.98 L595.95,62.83 L597.03,62.69 L598.11,62.55 L599.19,62.41 L600.27,62.27 L601.35,62.13 L602.44,62 L603.52,61.86 L604.6,61.73" fill="none" stroke="#000" stroke-width="1.6" stroke-linejoin="round" stroke-linecap="butt"/>
<text x="608.25" y="65.6" font-size="11" text-anchor="start" fill="#333" >2</text>
<path d="M423.4,169.3 L423.55,167.73 L423.7,166.48 L423.85,165.34 L424,164.28 L424.15,163.28 L424.31,162.33 L424.46,161.42 L424.61,160.54 L424.76,159.7 L424.91,158.89 L425.06,158.1 L425.21,157.34 L425.36,156.6 L425.51,155.88 L425.66,155.18 L425.82,154.51 L425.97,153.85 L426.12,153.2 L426.27,152.57 L426.42,151.96 L426.57,151.36 L426.72,150.78 L426.87,150.21 L427.02,149.65 L427.17,149.11 L427.33,148.58 L427.48,148.06 L427.63,147.55 L427.78,147.05 L427.93,146.56 L428.08,146.08 L428.23,145.61 L428.38,145.15 L428.53,144.7 L428.69,144.25 L428.84,143.82 L428.99,143.39 L429.14,142.98 L429.29,142.57 L429.44,142.16 L429.59,141.77 L429.74,141.38 L429.89,141 L430.04,140.63 L430.19,140.26 L430.35,139.9 L430.5,139.54 L430.65,139.19 L430.8,138.85 L430.95,138.51 L431.1,138.18 L431.25,137.85 L431.4,137.53 L431.55,137.21 L431.7,136.9 L431.86,136.6 L432.01,136.3 L432.16,136 L432.31,135.71 L432.46,135.42 L432.61,135.14 L433.69,133.23 L434.77,131.51 L435.86,129.95 L436.94,128.52 L438.02,127.22 L439.1,126.02 L440.18,124.92 L441.26,123.89 L442.35,122.94 L443.43,122.05 L444.51,121.21 L445.59,120.42 L446.67,119.68 L447.75,118.98 L448.84,118.31 L449.92,117.67 L451,117.07 L452.08,116.48 L453.16,115.93 L454.24,115.39 L455.33,114.87 L456.41,114.37 L457.49,113.89 L458.57,113.42 L459.65,112.97 L460.73,112.53 L461.82,112.1 L462.9,111.68 L463.98,111.27 L465.06,110.87 L466.14,110.49 L467.23,110.1 L468.31,109.73 L469.39,109.37 L470.47,109.01 L471.55,108.66 L472.63,108.31 L473.72,107.97 L474.8,107.64 L475.88,107.31 L476.96,106.99 L478.04,106.68 L479.12,106.36 L480.21,106.06 L481.29,105.75 L482.37,105.46 L483.45,105.16 L484.53,104.87 L485.61,104.59 L486.7,104.31 L487.78,104.03 L488.86,103.76 L489.94,103.49 L491.02,103.22 L492.1,102.96 L493.19,102.7 L494.27,102.44 L495.35,102.19 L496.43,101.94 L497.51,101.7 L498.59,101.46 L499.68,101.22 L500.76,100.98 L501.84,100.75 L502.92,100.51 L504,100.29 L505.08,100.06 L506.17,99.84 L507.25,99.62 L508.33,99.4 L509.41,99.19 L510.49,98.98 L511.57,98.77 L512.66,98.56 L513.74,98.36 L514.82,98.16 L515.9,97.96 L516.98,97.76 L518.06,97.57 L519.15,97.38 L520.23,97.19 L521.31,97 L522.39,96.82 L523.47,96.63 L524.55,96.45 L525.64,96.28 L526.72,96.1 L527.8,95.93 L528.88,95.75 L529.96,95.58 L531.04,95.42 L532.13,95.25 L533.21,95.09 L534.29,94.93 L535.37,94.77 L536.45,94.61 L537.54,94.45 L538.62,94.3 L539.7,94.15 L540.78,94 L541.86,93.85 L542.94,93.7 L544.03,93.56 L545.11,93.41 L546.19,93.27 L547.27,93.13 L548.35,92.99 L549.43,92.86 L550.52,92.72 L551.6,92.59 L552.68,92.46 L553.76,92.33 L554.84,92.2 L555.92,92.07 L557.01,91.95 L558.09,91.82 L559.17,91.7 L560.25,91.58 L561.33,91.46 L562.41,91.34 L563.5,91.22 L564.58,91.11 L565.66,91 L566.74,90.88 L567.82,90.77 L568.9,90.66 L569.99,90.55 L571.07,90.45 L572.15,90.34 L573.23,90.24 L574.31,90.13 L575.39,90.03 L576.48,89.93 L577.56,89.83 L578.64,89.73 L579.72,89.63 L580.8,89.54 L581.88,89.44 L582.97,89.35 L584.05,89.26 L585.13,89.16 L586.21,89.07 L587.29,88.98 L588.37,88.9 L589.46,88.81 L590.54,88.72 L591.62,88.64 L592.7,88.55 L593.78,88.47 L594.86,88.39 L595.95,88.31 L597.03,88.23 L598.11,88.15 L599.19,88.07 L600.27,87.99 L601.35,87.91 L602.44,87.84 L603.52,87.76 L604.6,87.69" fill="none" stroke="#000" stroke-width="1.6" stroke-linejoin="round" stroke-linecap="butt"/>
<text x="608.36" y="91.4" font-size="11" text-anchor="start" fill="#333" >5</text>
<path d="M423.4,169.3 L423.55,167.44 L423.7,166.12 L423.85,164.97 L424,163.93 L424.15,162.98 L424.31,162.09 L424.46,161.26 L424.61,160.48 L424.76,159.73 L424.91,159.03 L425.06,158.35 L425.21,157.71 L425.36,157.09 L425.51,156.5 L425.66,155.93 L425.82,155.39 L425.97,154.86 L426.12,154.35 L426.27,153.86 L426.42,153.39 L426.57,152.93 L426.72,152.48 L426.87,152.05 L427.02,151.64 L427.17,151.23 L427.33,150.84 L427.48,150.46 L427.63,150.09 L427.78,149.73 L427.93,149.38 L428.08,149.03 L428.23,148.7 L428.38,148.38 L428.53,148.06 L428.69,147.76 L428.84,147.46 L428.99,147.16 L429.14,146.88 L429.29,146.6 L429.44,146.33 L429.59,146.06 L429.74,145.8 L429.89,145.55 L430.04,145.3 L430.19,145.06 L430.35,144.82 L430.5,144.58 L430.65,144.36 L430.8,144.13 L430.95,143.92 L431.1,143.7 L431.25,143.49 L431.4,143.29 L431.55,143.08 L431.7,142.89 L431.86,142.69 L432.01,142.5 L432.16,142.32 L432.31,142.13 L432.46,141.95 L432.61,141.78 L433.69,140.6 L434.77,139.55 L435.86,138.61 L436.94,137.76 L438.02,136.99 L439.1,136.28 L440.18,135.63 L441.26,135.02 L442.35,134.45 L443.43,133.92 L444.51,133.41 L445.59,132.94 L446.67,132.48 L447.75,132.05 L448.84,131.63 L449.92,131.24 L451,130.85 L452.08,130.48 L453.16,130.12 L454.24,129.78 L455.33,129.44 L456.41,129.11 L457.49,128.8 L458.57,128.49 L459.65,128.18 L460.73,127.89 L461.82,127.6 L462.9,127.32 L463.98,127.04 L465.06,126.77 L466.14,126.51 L467.23,126.25 L468.31,125.99 L469.39,125.75 L470.47,125.5 L471.55,125.26 L472.63,125.03 L473.72,124.79 L474.8,124.57 L475.88,124.35 L476.96,124.13 L478.04,123.91 L479.12,123.7 L480.21,123.49 L481.29,123.29 L482.37,123.09 L483.45,122.89 L484.53,122.7 L485.61,122.5 L486.7,122.32 L487.78,122.13 L488.86,121.95 L489.94,121.77 L491.02,121.6 L492.1,121.42 L493.19,121.26 L494.27,121.09 L495.35,120.92 L496.43,120.76 L497.51,120.6 L498.59,120.45 L499.68,120.29 L500.76,120.14 L501.84,119.99 L502.92,119.85 L504,119.7 L505.08,119.56 L506.17,119.42 L507.25,119.29 L508.33,119.15 L509.41,119.02 L510.49,118.89 L511.57,118.76 L512.66,118.63 L513.74,118.51 L514.82,118.39 L515.9,118.27 L516.98,118.15 L518.06,118.03 L519.15,117.92 L520.23,117.81 L521.31,117.7 L522.39,117.59 L523.47,117.48 L524.55,117.37 L525.64,117.27 L526.72,117.17 L527.8,117.07 L528.88,116.97 L529.96,116.87 L531.04,116.78 L532.13,116.68 L533.21,116.59 L534.29,116.5 L535.37,116.41 L536.45,116.32 L537.54,116.23 L538.62,116.15 L539.7,116.06 L540.78,115.98 L541.86,115.9 L542.94,115.82 L544.03,115.74 L545.11,115.66 L546.19,115.59 L547.27,115.51 L548.35,115.44 L549.43,115.37 L550.52,115.3 L551.6,115.23 L552.68,115.16 L553.76,115.09 L554.84,115.02 L555.92,114.96 L557.01,114.89 L558.09,114.83 L559.17,114.76 L560.25,114.7 L561.33,114.64 L562.41,114.58 L563.5,114.52 L564.58,114.47 L565.66,114.41 L566.74,114.35 L567.82,114.3 L568.9,114.24 L569.99,114.19 L571.07,114.14 L572.15,114.09 L573.23,114.04 L574.31,113.99 L575.39,113.94 L576.48,113.89 L577.56,113.84 L578.64,113.8 L579.72,113.75 L580.8,113.7 L581.88,113.66 L582.97,113.62 L584.05,113.57 L585.13,113.53 L586.21,113.49 L587.29,113.45 L588.37,113.41 L589.46,113.37 L590.54,113.33 L591.62,113.29 L592.7,113.25 L593.78,113.22 L594.86,113.18 L595.95,113.14 L597.03,113.11 L598.11,113.07 L599.19,113.04 L600.27,113.01 L601.35,112.97 L602.44,112.94 L603.52,112.91 L604.6,112.88" fill="none" stroke="#000" stroke-width="1.6" stroke-linejoin="round" stroke-linecap="butt"/>
<text x="607.96" y="117.4" font-size="11" text-anchor="start" fill="#333" >10</text>
<path d="M423.4,169.3 L423.55,168.87 L423.7,168.46 L423.85,168.07 L424,167.69 L424.15,167.33 L424.31,166.98 L424.46,166.63 L424.61,166.3 L424.76,165.97 L424.91,165.66 L425.06,165.35 L425.21,165.05 L425.36,164.76 L425.51,164.48 L425.66,164.2 L425.82,163.93 L425.97,163.67 L426.12,163.42 L426.27,163.17 L426.42,162.92 L426.57,162.69 L426.72,162.45 L426.87,162.23 L427.02,162.01 L427.17,161.79 L427.33,161.58 L427.48,161.38 L427.63,161.18 L427.78,160.98 L427.93,160.79 L428.08,160.61 L428.23,160.43 L428.38,160.25 L428.53,160.07 L428.69,159.9 L428.84,159.74 L428.99,159.58 L429.14,159.42 L429.29,159.27 L429.44,159.11 L429.59,158.97 L429.74,158.82 L429.89,158.68 L430.04,158.54 L430.19,158.41 L430.35,158.28 L430.5,158.15 L430.65,158.02 L430.8,157.9 L430.95,157.78 L431.1,157.66 L431.25,157.54 L431.4,157.43 L431.55,157.32 L431.7,157.21 L431.86,157.11 L432.01,157 L432.16,156.9 L432.31,156.8 L432.46,156.7 L432.61,156.61 L433.69,155.98 L434.77,155.44 L435.86,154.96 L436.94,154.55 L438.02,154.19 L439.1,153.87 L440.18,153.58 L441.26,153.32 L442.35,153.09 L443.43,152.88 L444.51,152.68 L445.59,152.51 L446.67,152.34 L447.75,152.19 L448.84,152.04 L449.92,151.91 L451,151.78 L452.08,151.66 L453.16,151.54 L454.24,151.43 L455.33,151.32 L456.41,151.22 L457.49,151.11 L458.57,151.02 L459.65,150.92 L460.73,150.83 L461.82,150.74 L462.9,150.65 L463.98,150.56 L465.06,150.48 L466.14,150.39 L467.23,150.31 L468.31,150.23 L469.39,150.15 L470.47,150.07 L471.55,150 L472.63,149.92 L473.72,149.85 L474.8,149.77 L475.88,149.7 L476.96,149.63 L478.04,149.56 L479.12,149.49 L480.21,149.42 L481.29,149.36 L482.37,149.29 L483.45,149.22 L484.53,149.16 L485.61,149.1 L486.7,149.03 L487.78,148.97 L488.86,148.91 L489.94,148.85 L491.02,148.79 L492.1,148.73 L493.19,148.68 L494.27,148.62 L495.35,148.56 L496.43,148.51 L497.51,148.45 L498.59,148.4 L499.68,148.35 L500.76,148.29 L501.84,148.24 L502.92,148.19 L504,148.14 L505.08,148.09 L506.17,148.04 L507.25,147.99 L508.33,147.95 L509.41,147.9 L510.49,147.85 L511.57,147.81 L512.66,147.76 L513.74,147.72 L514.82,147.67 L515.9,147.63 L516.98,147.59 L518.06,147.54 L519.15,147.5 L520.23,147.46 L521.31,147.42 L522.39,147.38 L523.47,147.34 L524.55,147.3 L525.64,147.26 L526.72,147.23 L527.8,147.19 L528.88,147.15 L529.96,147.11 L531.04,147.08 L532.13,147.04 L533.21,147.01 L534.29,146.97 L535.37,146.94 L536.45,146.91 L537.54,146.87 L538.62,146.84 L539.7,146.81 L540.78,146.78 L541.86,146.75 L542.94,146.71 L544.03,146.68 L545.11,146.65 L546.19,146.62 L547.27,146.59 L548.35,146.57 L549.43,146.54 L550.52,146.51 L551.6,146.48 L552.68,146.45 L553.76,146.43 L554.84,146.4 L555.92,146.37 L557.01,146.35 L558.09,146.32 L559.17,146.3 L560.25,146.27 L561.33,146.25 L562.41,146.22 L563.5,146.2 L564.58,146.18 L565.66,146.15 L566.74,146.13 L567.82,146.11 L568.9,146.08 L569.99,146.06 L571.07,146.04 L572.15,146.02 L573.23,146 L574.31,145.98 L575.39,145.96 L576.48,145.94 L577.56,145.92 L578.64,145.9 L579.72,145.88 L580.8,145.86 L581.88,145.84 L582.97,145.82 L584.05,145.8 L585.13,145.78 L586.21,145.76 L587.29,145.75 L588.37,145.73 L589.46,145.71 L590.54,145.69 L591.62,145.68 L592.7,145.66 L593.78,145.64 L594.86,145.63 L595.95,145.61 L597.03,145.6 L598.11,145.58 L599.19,145.57 L600.27,145.55 L601.35,145.54 L602.44,145.52 L603.52,145.51 L604.6,145.49" fill="none" stroke="#000" stroke-width="1.6" stroke-linejoin="round" stroke-linecap="butt"/>
<text x="608.25" y="143.7" font-size="11" text-anchor="start" fill="#333" >20</text>
<path d="M423.4,169.3 L423.55,169.18 L423.7,169.05 L423.85,168.91 L424,168.78 L424.15,168.64 L424.31,168.51 L424.46,168.37 L424.61,168.23 L424.76,168.1 L424.91,167.97 L425.06,167.83 L425.21,167.7 L425.36,167.58 L425.51,167.45 L425.66,167.32 L425.82,167.2 L425.97,167.07 L426.12,166.95 L426.27,166.83 L426.42,166.72 L426.57,166.6 L426.72,166.48 L426.87,166.37 L427.02,166.26 L427.17,166.15 L427.33,166.04 L427.48,165.94 L427.63,165.83 L427.78,165.73 L427.93,165.63 L428.08,165.53 L428.23,165.43 L428.38,165.33 L428.53,165.24 L428.69,165.15 L428.84,165.05 L428.99,164.96 L429.14,164.88 L429.29,164.79 L429.44,164.7 L429.59,164.62 L429.74,164.53 L429.89,164.45 L430.04,164.37 L430.19,164.29 L430.35,164.21 L430.5,164.14 L430.65,164.06 L430.8,163.99 L430.95,163.91 L431.1,163.84 L431.25,163.77 L431.4,163.7 L431.55,163.63 L431.7,163.56 L431.86,163.5 L432.01,163.43 L432.16,163.37 L432.31,163.31 L432.46,163.24 L432.61,163.18 L433.69,162.77 L434.77,162.4 L435.86,162.07 L436.94,161.77 L438.02,161.5 L439.1,161.25 L440.18,161.02 L441.26,160.81 L442.35,160.62 L443.43,160.43 L444.51,160.26 L445.59,160.1 L446.67,159.95 L447.75,159.8 L448.84,159.66 L449.92,159.52 L451,159.39 L452.08,159.26 L453.16,159.14 L454.24,159.02 L455.33,158.9 L456.41,158.79 L457.49,158.68 L458.57,158.57 L459.65,158.46 L460.73,158.36 L461.82,158.25 L462.9,158.15 L463.98,158.05 L465.06,157.95 L466.14,157.86 L467.23,157.76 L468.31,157.67 L469.39,157.57 L470.47,157.48 L471.55,157.39 L472.63,157.3 L473.72,157.22 L474.8,157.13 L475.88,157.05 L476.96,156.96 L478.04,156.88 L479.12,156.8 L480.21,156.72 L481.29,156.64 L482.37,156.56 L483.45,156.48 L484.53,156.41 L485.61,156.33 L486.7,156.26 L487.78,156.19 L488.86,156.12 L489.94,156.04 L491.02,155.98 L492.1,155.91 L493.19,155.84 L494.27,155.77 L495.35,155.71 L496.43,155.64 L497.51,155.58 L498.59,155.51 L499.68,155.45 L500.76,155.39 L501.84,155.33 L502.92,155.27 L504,155.21 L505.08,155.15 L506.17,155.09 L507.25,155.04 L508.33,154.98 L509.41,154.92 L510.49,154.87 L511.57,154.82 L512.66,154.76 L513.74,154.71 L514.82,154.66 L515.9,154.61 L516.98,154.56 L518.06,154.51 L519.15,154.46 L520.23,154.41 L521.31,154.37 L522.39,154.32 L523.47,154.27 L524.55,154.23 L525.64,154.18 L526.72,154.14 L527.8,154.09 L528.88,154.05 L529.96,154.01 L531.04,153.97 L532.13,153.93 L533.21,153.88 L534.29,153.84 L535.37,153.8 L536.45,153.77 L537.54,153.73 L538.62,153.69 L539.7,153.65 L540.78,153.61 L541.86,153.58 L542.94,153.54 L544.03,153.51 L545.11,153.47 L546.19,153.44 L547.27,153.4 L548.35,153.37 L549.43,153.34 L550.52,153.3 L551.6,153.27 L552.68,153.24 L553.76,153.21 L554.84,153.18 L555.92,153.15 L557.01,153.12 L558.09,153.09 L559.17,153.06 L560.25,153.03 L561.33,153 L562.41,152.97 L563.5,152.94 L564.58,152.92 L565.66,152.89 L566.74,152.86 L567.82,152.84 L568.9,152.81 L569.99,152.79 L571.07,152.76 L572.15,152.74 L573.23,152.71 L574.31,152.69 L575.39,152.66 L576.48,152.64 L577.56,152.62 L578.64,152.59 L579.72,152.57 L580.8,152.55 L581.88,152.53 L582.97,152.51 L584.05,152.48 L585.13,152.46 L586.21,152.44 L587.29,152.42 L588.37,152.4 L589.46,152.38 L590.54,152.36 L591.62,152.34 L592.7,152.32 L593.78,152.31 L594.86,152.29 L595.95,152.27 L597.03,152.25 L598.11,152.23 L599.19,152.21 L600.27,152.2 L601.35,152.18 L602.44,152.16 L603.52,152.15 L604.6,152.13" fill="none" stroke="#000" stroke-width="1.6" stroke-linejoin="round" stroke-linecap="butt"/>
<text x="608.36" y="155.9" font-size="11" text-anchor="start" fill="#333" >50</text>
<line x1="109.3" y1="206.2" x2="109.3" y2="366.2" stroke="#000" stroke-width="1.8"/>
<line x1="108.4" y1="365.3" x2="291.4" y2="365.3" stroke="#000" stroke-width="1.8"/>
<line x1="109.3" y1="333.14" x2="113.7" y2="333.14" stroke="#000" stroke-width="1.7"/>
<line x1="109.3" y1="301.48" x2="113.7" y2="301.48" stroke="#000" stroke-width="1.7"/>
<line x1="109.3" y1="269.82" x2="113.7" y2="269.82" stroke="#000" stroke-width="1.7"/>
<line x1="109.3" y1="238.16" x2="113.7" y2="238.16" stroke="#000" stroke-width="1.7"/>
<line x1="109.3" y1="206.5" x2="113.7" y2="206.5" stroke="#000" stroke-width="1.7"/>
<line x1="169.75" y1="364.8" x2="169.75" y2="360.6" stroke="#000" stroke-width="1.6"/>
<line x1="230.2" y1="364.8" x2="230.2" y2="360.6" stroke="#000" stroke-width="1.6"/>
<line x1="290.65" y1="364.8" x2="290.65" y2="360.6" stroke="#000" stroke-width="1.6"/>
<text x="103.3" y="368.7" font-size="11.4" text-anchor="end" fill="#333" >0</text>
<text x="103.3" y="337.04" font-size="11.4" text-anchor="end" fill="#333" >50</text>
<text x="103.3" y="305.38" font-size="11.4" text-anchor="end" fill="#333" >100</text>
<text x="103.3" y="273.72" font-size="11.4" text-anchor="end" fill="#333" >150</text>
<text x="103.3" y="242.06" font-size="11.4" text-anchor="end" fill="#333" >200</text>
<text x="103.3" y="210.4" font-size="11.4" text-anchor="end" fill="#333" >250</text>
<text x="109.3" y="381.8" font-size="11.4" text-anchor="middle" fill="#333" >0</text>
<text x="169.75" y="381.8" font-size="11.4" text-anchor="middle" fill="#333" >200</text>
<text x="230.2" y="381.8" font-size="11.4" text-anchor="middle" fill="#333" >400</text>
<text x="290.65" y="381.8" font-size="11.4" text-anchor="middle" fill="#333" >600</text>
<text x="241.3" y="390.8" font-size="11.4" text-anchor="start" fill="#333" >Time (s)</text>
<text x="0" y="0" font-size="11.6" text-anchor="middle" fill="#333" transform="translate(73.6,285.5) rotate(-90)">Response (AU)</text>
<text x="53.8" y="205" font-size="13" text-anchor="start" fill="#333" style="stroke-width:0.55px">C</text>
<text x="118.4" y="209.8" font-size="11" fill="#333">1-InsP<tspan dx="1.8" dy="4.3" font-size="10.5">7</tspan></text>
<text x="288" y="218.6" font-size="10.5" text-anchor="start" fill="#333" >(µM)</text>
<path d="M109.3,364.8 L109.45,364.53 L109.6,364.27 L109.75,364 L109.9,363.73 L110.06,363.46 L110.21,363.19 L110.36,362.92 L110.51,362.65 L110.66,362.37 L110.81,362.09 L110.96,361.81 L111.11,361.52 L111.26,361.23 L111.42,360.94 L111.57,360.64 L111.72,360.34 L111.87,360.03 L112.02,359.71 L112.17,359.39 L112.32,359.06 L112.47,358.73 L112.62,358.39 L112.78,358.04 L112.93,357.69 L113.08,357.32 L113.23,356.95 L113.38,356.57 L113.53,356.18 L113.68,355.79 L113.83,355.38 L113.98,354.97 L114.14,354.54 L114.29,354.11 L114.44,353.67 L114.59,353.22 L114.74,352.76 L114.89,352.29 L115.04,351.81 L115.19,351.33 L115.34,350.83 L115.5,350.33 L115.65,349.82 L115.8,349.3 L115.95,348.77 L116.1,348.23 L116.25,347.69 L116.4,347.14 L116.55,346.59 L116.71,346.02 L116.86,345.46 L117.01,344.88 L117.16,344.31 L117.31,343.72 L117.46,343.14 L117.61,342.55 L117.76,341.96 L117.91,341.36 L118.07,340.77 L118.22,340.17 L118.37,339.58 L118.52,338.98 L119.6,334.78 L120.68,330.83 L121.77,327.29 L122.85,324.24 L123.93,321.66 L125.01,319.49 L126.1,317.62 L127.18,315.95 L128.26,314.4 L129.34,312.92 L130.43,311.48 L131.51,310.08 L132.59,308.7 L133.67,307.34 L134.76,306 L135.84,304.69 L136.92,303.39 L138.01,302.11 L139.09,300.86 L140.17,299.62 L141.25,298.4 L142.34,297.21 L143.42,296.03 L144.5,294.86 L145.58,293.72 L146.67,292.6 L147.75,291.49 L148.83,290.4 L149.91,289.32 L151,288.26 L152.08,287.22 L153.16,286.2 L154.24,285.19 L155.33,284.19 L156.41,283.22 L157.49,282.25 L158.57,281.31 L159.66,280.37 L160.74,279.45 L161.82,278.55 L162.9,277.66 L163.99,276.78 L165.07,275.92 L166.15,275.07 L167.24,274.23 L168.32,273.41 L169.4,272.6 L170.48,271.8 L171.57,271.01 L172.65,270.24 L173.73,269.48 L174.81,268.73 L175.9,267.99 L176.98,267.26 L178.06,266.55 L179.14,265.84 L180.23,265.15 L181.31,264.47 L182.39,263.79 L183.47,263.13 L184.56,262.48 L185.64,261.84 L186.72,261.21 L187.8,260.59 L188.89,259.98 L189.97,259.37 L191.05,258.78 L192.13,258.2 L193.22,257.62 L194.3,257.06 L195.38,256.5 L196.46,255.95 L197.55,255.41 L198.63,254.88 L199.71,254.35 L200.8,253.84 L201.88,253.33 L202.96,252.83 L204.04,252.34 L205.13,251.86 L206.21,251.38 L207.29,250.91 L208.37,250.45 L209.46,249.99 L210.54,249.55 L211.62,249.11 L212.7,248.67 L213.79,248.24 L214.87,247.82 L215.95,247.41 L217.03,247 L218.12,246.6 L219.2,246.21 L220.28,245.82 L221.36,245.43 L222.45,245.06 L223.53,244.69 L224.61,244.32 L225.69,243.96 L226.78,243.61 L227.86,243.26 L228.94,242.92 L230.03,242.58 L231.11,242.25 L232.19,241.92 L233.27,241.6 L234.36,241.28 L235.44,240.97 L236.52,240.66 L237.6,240.36 L238.69,240.06 L239.77,239.76 L240.85,239.47 L241.93,239.19 L243.02,238.91 L244.1,238.63 L245.18,238.36 L246.26,238.1 L247.35,237.83 L248.43,237.57 L249.51,237.32 L250.59,237.07 L251.68,236.82 L252.76,236.58 L253.84,236.34 L254.92,236.1 L256.01,235.87 L257.09,235.64 L258.17,235.42 L259.25,235.19 L260.34,234.98 L261.42,234.76 L262.5,234.55 L263.59,234.34 L264.67,234.14 L265.75,233.94 L266.83,233.74 L267.92,233.54 L269,233.35 L270.08,233.16 L271.16,232.97 L272.25,232.79 L273.33,232.61 L274.41,232.43 L275.49,232.26 L276.58,232.08 L277.66,231.91 L278.74,231.75 L279.82,231.58 L280.91,231.42 L281.99,231.26 L283.07,231.1 L284.15,230.95 L285.24,230.8 L286.32,230.65 L287.4,230.5 L288.48,230.35 L289.57,230.21 L290.65,230.07" fill="none" stroke="#000" stroke-width="1.6" stroke-linejoin="round" stroke-linecap="butt"/>
<text x="298.27" y="233.5" font-size="11" text-anchor="start" fill="#333" >0</text>
<path d="M109.3,364.8 L109.45,364.56 L109.6,364.3 L109.75,364.04 L109.9,363.76 L110.06,363.47 L110.21,363.17 L110.36,362.87 L110.51,362.56 L110.66,362.24 L110.81,361.92 L110.96,361.59 L111.11,361.26 L111.26,360.93 L111.42,360.59 L111.57,360.25 L111.72,359.9 L111.87,359.55 L112.02,359.2 L112.17,358.85 L112.32,358.5 L112.47,358.15 L112.62,357.79 L112.78,357.43 L112.93,357.08 L113.08,356.72 L113.23,356.36 L113.38,356.01 L113.53,355.65 L113.68,355.29 L113.83,354.94 L113.98,354.58 L114.14,354.23 L114.29,353.87 L114.44,353.52 L114.59,353.17 L114.74,352.82 L114.89,352.48 L115.04,352.13 L115.19,351.79 L115.34,351.45 L115.5,351.11 L115.65,350.77 L115.8,350.44 L115.95,350.11 L116.1,349.78 L116.25,349.45 L116.4,349.13 L116.55,348.81 L116.71,348.49 L116.86,348.17 L117.01,347.86 L117.16,347.55 L117.31,347.24 L117.46,346.93 L117.61,346.63 L117.76,346.33 L117.91,346.03 L118.07,345.74 L118.22,345.45 L118.37,345.16 L118.52,344.87 L119.6,342.9 L120.68,341.05 L121.77,339.33 L122.85,337.7 L123.93,336.16 L125.01,334.69 L126.1,333.28 L127.18,331.92 L128.26,330.6 L129.34,329.32 L130.43,328.06 L131.51,326.83 L132.59,325.62 L133.67,324.43 L134.76,323.25 L135.84,322.1 L136.92,320.96 L138.01,319.83 L139.09,318.73 L140.17,317.63 L141.25,316.56 L142.34,315.49 L143.42,314.44 L144.5,313.41 L145.58,312.39 L146.67,311.38 L147.75,310.39 L148.83,309.41 L149.91,308.44 L151,307.48 L152.08,306.54 L153.16,305.61 L154.24,304.7 L155.33,303.79 L156.41,302.9 L157.49,302.02 L158.57,301.15 L159.66,300.29 L160.74,299.45 L161.82,298.62 L162.9,297.79 L163.99,296.98 L165.07,296.18 L166.15,295.39 L167.24,294.61 L168.32,293.84 L169.4,293.08 L170.48,292.33 L171.57,291.6 L172.65,290.87 L173.73,290.15 L174.81,289.44 L175.9,288.74 L176.98,288.05 L178.06,287.37 L179.14,286.7 L180.23,286.03 L181.31,285.38 L182.39,284.73 L183.47,284.1 L184.56,283.47 L185.64,282.85 L186.72,282.24 L187.8,281.64 L188.89,281.04 L189.97,280.45 L191.05,279.87 L192.13,279.3 L193.22,278.74 L194.3,278.18 L195.38,277.63 L196.46,277.09 L197.55,276.56 L198.63,276.03 L199.71,275.51 L200.8,275 L201.88,274.49 L202.96,273.99 L204.04,273.5 L205.13,273.02 L206.21,272.54 L207.29,272.06 L208.37,271.6 L209.46,271.14 L210.54,270.68 L211.62,270.23 L212.7,269.79 L213.79,269.36 L214.87,268.93 L215.95,268.5 L217.03,268.08 L218.12,267.67 L219.2,267.26 L220.28,266.86 L221.36,266.46 L222.45,266.07 L223.53,265.69 L224.61,265.3 L225.69,264.93 L226.78,264.56 L227.86,264.19 L228.94,263.83 L230.03,263.47 L231.11,263.12 L232.19,262.78 L233.27,262.43 L234.36,262.1 L235.44,261.76 L236.52,261.44 L237.6,261.11 L238.69,260.79 L239.77,260.48 L240.85,260.16 L241.93,259.86 L243.02,259.55 L244.1,259.26 L245.18,258.96 L246.26,258.67 L247.35,258.38 L248.43,258.1 L249.51,257.82 L250.59,257.55 L251.68,257.27 L252.76,257.01 L253.84,256.74 L254.92,256.48 L256.01,256.22 L257.09,255.97 L258.17,255.72 L259.25,255.47 L260.34,255.23 L261.42,254.98 L262.5,254.75 L263.59,254.51 L264.67,254.28 L265.75,254.05 L266.83,253.83 L267.92,253.61 L269,253.39 L270.08,253.17 L271.16,252.96 L272.25,252.75 L273.33,252.54 L274.41,252.34 L275.49,252.13 L276.58,251.93 L277.66,251.74 L278.74,251.54 L279.82,251.35 L280.91,251.16 L281.99,250.98 L283.07,250.79 L284.15,250.61 L285.24,250.43 L286.32,250.26 L287.4,250.08 L288.48,249.91 L289.57,249.74 L290.65,249.57" fill="none" stroke="#000" stroke-width="1.6" stroke-linejoin="round" stroke-linecap="butt"/>
<text x="297.86" y="252.3" font-size="11" text-anchor="start" fill="#333" >10</text>
<path d="M109.3,364.8 L109.45,364.62 L109.6,364.39 L109.75,364.14 L109.9,363.87 L110.06,363.58 L110.21,363.28 L110.36,362.97 L110.51,362.65 L110.66,362.31 L110.81,361.97 L110.96,361.63 L111.11,361.28 L111.26,360.93 L111.42,360.57 L111.57,360.21 L111.72,359.85 L111.87,359.49 L112.02,359.14 L112.17,358.78 L112.32,358.42 L112.47,358.07 L112.62,357.72 L112.78,357.38 L112.93,357.03 L113.08,356.69 L113.23,356.36 L113.38,356.03 L113.53,355.7 L113.68,355.38 L113.83,355.07 L113.98,354.76 L114.14,354.45 L114.29,354.15 L114.44,353.86 L114.59,353.57 L114.74,353.28 L114.89,353.01 L115.04,352.73 L115.19,352.47 L115.34,352.21 L115.5,351.95 L115.65,351.7 L115.8,351.45 L115.95,351.21 L116.1,350.98 L116.25,350.75 L116.4,350.52 L116.55,350.3 L116.71,350.08 L116.86,349.87 L117.01,349.66 L117.16,349.46 L117.31,349.26 L117.46,349.06 L117.61,348.87 L117.76,348.68 L117.91,348.49 L118.07,348.31 L118.22,348.13 L118.37,347.95 L118.52,347.78 L119.6,346.61 L120.68,345.55 L121.77,344.56 L122.85,343.62 L123.93,342.71 L125.01,341.82 L126.1,340.96 L127.18,340.1 L128.26,339.26 L129.34,338.43 L130.43,337.6 L131.51,336.79 L132.59,335.98 L133.67,335.18 L134.76,334.39 L135.84,333.61 L136.92,332.84 L138.01,332.07 L139.09,331.31 L140.17,330.56 L141.25,329.82 L142.34,329.08 L143.42,328.35 L144.5,327.63 L145.58,326.92 L146.67,326.21 L147.75,325.52 L148.83,324.82 L149.91,324.14 L151,323.46 L152.08,322.79 L153.16,322.13 L154.24,321.47 L155.33,320.82 L156.41,320.18 L157.49,319.54 L158.57,318.91 L159.66,318.29 L160.74,317.67 L161.82,317.06 L162.9,316.45 L163.99,315.85 L165.07,315.26 L166.15,314.67 L167.24,314.09 L168.32,313.52 L169.4,312.95 L170.48,312.39 L171.57,311.83 L172.65,311.28 L173.73,310.73 L174.81,310.19 L175.9,309.66 L176.98,309.13 L178.06,308.6 L179.14,308.08 L180.23,307.57 L181.31,307.06 L182.39,306.56 L183.47,306.06 L184.56,305.57 L185.64,305.08 L186.72,304.6 L187.8,304.12 L188.89,303.65 L189.97,303.18 L191.05,302.72 L192.13,302.26 L193.22,301.8 L194.3,301.35 L195.38,300.91 L196.46,300.47 L197.55,300.03 L198.63,299.6 L199.71,299.18 L200.8,298.75 L201.88,298.33 L202.96,297.92 L204.04,297.51 L205.13,297.11 L206.21,296.7 L207.29,296.31 L208.37,295.91 L209.46,295.52 L210.54,295.14 L211.62,294.76 L212.7,294.38 L213.79,294.01 L214.87,293.64 L215.95,293.27 L217.03,292.91 L218.12,292.55 L219.2,292.2 L220.28,291.84 L221.36,291.5 L222.45,291.15 L223.53,290.81 L224.61,290.48 L225.69,290.14 L226.78,289.81 L227.86,289.48 L228.94,289.16 L230.03,288.84 L231.11,288.52 L232.19,288.21 L233.27,287.9 L234.36,287.59 L235.44,287.29 L236.52,286.99 L237.6,286.69 L238.69,286.39 L239.77,286.1 L240.85,285.81 L241.93,285.53 L243.02,285.24 L244.1,284.96 L245.18,284.69 L246.26,284.41 L247.35,284.14 L248.43,283.87 L249.51,283.6 L250.59,283.34 L251.68,283.08 L252.76,282.82 L253.84,282.57 L254.92,282.31 L256.01,282.06 L257.09,281.82 L258.17,281.57 L259.25,281.33 L260.34,281.09 L261.42,280.85 L262.5,280.61 L263.59,280.38 L264.67,280.15 L265.75,279.92 L266.83,279.7 L267.92,279.47 L269,279.25 L270.08,279.03 L271.16,278.82 L272.25,278.6 L273.33,278.39 L274.41,278.18 L275.49,277.97 L276.58,277.76 L277.66,277.56 L278.74,277.36 L279.82,277.16 L280.91,276.96 L281.99,276.77 L283.07,276.57 L284.15,276.38 L285.24,276.19 L286.32,276 L287.4,275.82 L288.48,275.63 L289.57,275.45 L290.65,275.27" fill="none" stroke="#000" stroke-width="1.6" stroke-linejoin="round" stroke-linecap="butt"/>
<text x="298.15" y="279" font-size="11" text-anchor="start" fill="#333" >20</text>
<path d="M109.3,364.8 L109.45,364.47 L109.6,364.12 L109.75,363.78 L109.9,363.43 L110.06,363.08 L110.21,362.74 L110.36,362.39 L110.51,362.05 L110.66,361.72 L110.81,361.38 L110.96,361.05 L111.11,360.72 L111.26,360.39 L111.42,360.07 L111.57,359.75 L111.72,359.43 L111.87,359.11 L112.02,358.8 L112.17,358.5 L112.32,358.19 L112.47,357.89 L112.62,357.59 L112.78,357.29 L112.93,357 L113.08,356.71 L113.23,356.43 L113.38,356.14 L113.53,355.86 L113.68,355.58 L113.83,355.31 L113.98,355.04 L114.14,354.77 L114.29,354.51 L114.44,354.24 L114.59,353.98 L114.74,353.73 L114.89,353.47 L115.04,353.22 L115.19,352.97 L115.34,352.73 L115.5,352.48 L115.65,352.24 L115.8,352 L115.95,351.77 L116.1,351.53 L116.25,351.3 L116.4,351.08 L116.55,350.85 L116.71,350.63 L116.86,350.4 L117.01,350.19 L117.16,349.97 L117.31,349.76 L117.46,349.54 L117.61,349.33 L117.76,349.13 L117.91,348.92 L118.07,348.72 L118.22,348.52 L118.37,348.32 L118.52,348.12 L119.6,346.77 L120.68,345.51 L121.77,344.33 L122.85,343.23 L123.93,342.2 L125.01,341.23 L126.1,340.32 L127.18,339.45 L128.26,338.63 L129.34,337.85 L130.43,337.11 L131.51,336.4 L132.59,335.71 L133.67,335.06 L134.76,334.43 L135.84,333.82 L136.92,333.23 L138.01,332.65 L139.09,332.1 L140.17,331.56 L141.25,331.03 L142.34,330.52 L143.42,330.01 L144.5,329.52 L145.58,329.04 L146.67,328.56 L147.75,328.1 L148.83,327.64 L149.91,327.19 L151,326.75 L152.08,326.32 L153.16,325.89 L154.24,325.46 L155.33,325.05 L156.41,324.63 L157.49,324.23 L158.57,323.83 L159.66,323.43 L160.74,323.04 L161.82,322.65 L162.9,322.27 L163.99,321.89 L165.07,321.52 L166.15,321.15 L167.24,320.78 L168.32,320.42 L169.4,320.06 L170.48,319.71 L171.57,319.36 L172.65,319.01 L173.73,318.67 L174.81,318.33 L175.9,318 L176.98,317.66 L178.06,317.33 L179.14,317.01 L180.23,316.69 L181.31,316.37 L182.39,316.05 L183.47,315.74 L184.56,315.43 L185.64,315.12 L186.72,314.82 L187.8,314.52 L188.89,314.22 L189.97,313.93 L191.05,313.64 L192.13,313.35 L193.22,313.06 L194.3,312.78 L195.38,312.5 L196.46,312.22 L197.55,311.95 L198.63,311.68 L199.71,311.41 L200.8,311.14 L201.88,310.88 L202.96,310.62 L204.04,310.36 L205.13,310.11 L206.21,309.85 L207.29,309.6 L208.37,309.35 L209.46,309.11 L210.54,308.87 L211.62,308.62 L212.7,308.39 L213.79,308.15 L214.87,307.92 L215.95,307.69 L217.03,307.46 L218.12,307.23 L219.2,307.01 L220.28,306.78 L221.36,306.56 L222.45,306.35 L223.53,306.13 L224.61,305.92 L225.69,305.7 L226.78,305.5 L227.86,305.29 L228.94,305.08 L230.03,304.88 L231.11,304.68 L232.19,304.48 L233.27,304.28 L234.36,304.09 L235.44,303.89 L236.52,303.7 L237.6,303.51 L238.69,303.33 L239.77,303.14 L240.85,302.96 L241.93,302.78 L243.02,302.6 L244.1,302.42 L245.18,302.24 L246.26,302.07 L247.35,301.89 L248.43,301.72 L249.51,301.55 L250.59,301.38 L251.68,301.22 L252.76,301.05 L253.84,300.89 L254.92,300.73 L256.01,300.57 L257.09,300.41 L258.17,300.25 L259.25,300.1 L260.34,299.95 L261.42,299.79 L262.5,299.64 L263.59,299.49 L264.67,299.35 L265.75,299.2 L266.83,299.06 L267.92,298.91 L269,298.77 L270.08,298.63 L271.16,298.49 L272.25,298.36 L273.33,298.22 L274.41,298.08 L275.49,297.95 L276.58,297.82 L277.66,297.69 L278.74,297.56 L279.82,297.43 L280.91,297.3 L281.99,297.18 L283.07,297.05 L284.15,296.93 L285.24,296.81 L286.32,296.69 L287.4,296.57 L288.48,296.45 L289.57,296.33 L290.65,296.22" fill="none" stroke="#000" stroke-width="1.6" stroke-linejoin="round" stroke-linecap="butt"/>
<text x="298.26" y="299" font-size="11" text-anchor="start" fill="#333" >50</text>
<line x1="423.4" y1="206.6" x2="423.4" y2="366.8" stroke="#000" stroke-width="1.8"/>
<line x1="422.5" y1="365.9" x2="605.35" y2="365.9" stroke="#000" stroke-width="1.8"/>
<line x1="423.4" y1="333.7" x2="427.8" y2="333.7" stroke="#000" stroke-width="1.7"/>
<line x1="423.4" y1="302" x2="427.8" y2="302" stroke="#000" stroke-width="1.7"/>
<line x1="423.4" y1="270.3" x2="427.8" y2="270.3" stroke="#000" stroke-width="1.7"/>
<line x1="423.4" y1="238.6" x2="427.8" y2="238.6" stroke="#000" stroke-width="1.7"/>
<line x1="423.4" y1="206.9" x2="427.8" y2="206.9" stroke="#000" stroke-width="1.7"/>
<line x1="483.8" y1="365.4" x2="483.8" y2="361.2" stroke="#000" stroke-width="1.6"/>
<line x1="544.2" y1="365.4" x2="544.2" y2="361.2" stroke="#000" stroke-width="1.6"/>
<line x1="604.6" y1="365.4" x2="604.6" y2="361.2" stroke="#000" stroke-width="1.6"/>
<text x="417.4" y="369.3" font-size="11.4" text-anchor="end" fill="#333" >0</text>
<text x="417.4" y="337.6" font-size="11.4" text-anchor="end" fill="#333" >50</text>
<text x="417.4" y="305.9" font-size="11.4" text-anchor="end" fill="#333" >100</text>
<text x="417.4" y="274.2" font-size="11.4" text-anchor="end" fill="#333" >150</text>
<text x="417.4" y="242.5" font-size="11.4" text-anchor="end" fill="#333" >200</text>
<text x="417.4" y="210.8" font-size="11.4" text-anchor="end" fill="#333" >250</text>
<text x="423.4" y="382.4" font-size="11.4" text-anchor="middle" fill="#333" >0</text>
<text x="483.8" y="382.4" font-size="11.4" text-anchor="middle" fill="#333" >200</text>
<text x="544.2" y="382.4" font-size="11.4" text-anchor="middle" fill="#333" >400</text>
<text x="604.6" y="382.4" font-size="11.4" text-anchor="middle" fill="#333" >600</text>
<text x="555" y="390.5" font-size="11.4" text-anchor="start" fill="#333" >Time (s)</text>
<text x="0" y="0" font-size="11.6" text-anchor="middle" fill="#333" transform="translate(387.2,286) rotate(-90)">Response (AU)</text>
<text x="351.9" y="215.5" font-size="13" text-anchor="start" fill="#333" style="stroke-width:0.55px">D</text>
<text x="432.4" y="211.0" font-size="11" fill="#333">InsP<tspan dx="0.7" dy="3.6" font-size="10.3">8</tspan></text>
<text x="600.8" y="218.6" font-size="10.5" text-anchor="start" fill="#333" >(µM)</text>
<path d="M423.4,365.4 L423.55,364.51 L423.7,363.79 L423.85,363.12 L424,362.49 L424.15,361.88 L424.31,361.29 L424.46,360.72 L424.61,360.16 L424.76,359.62 L424.91,359.08 L425.06,358.55 L425.21,358.04 L425.36,357.53 L425.51,357.02 L425.66,356.53 L425.82,356.04 L425.97,355.55 L426.12,355.08 L426.27,354.6 L426.42,354.14 L426.57,353.67 L426.72,353.22 L426.87,352.76 L427.02,352.32 L427.17,351.87 L427.33,351.43 L427.48,350.99 L427.63,350.56 L427.78,350.13 L427.93,349.71 L428.08,349.28 L428.23,348.87 L428.38,348.45 L428.53,348.04 L428.69,347.63 L428.84,347.22 L428.99,346.82 L429.14,346.42 L429.29,346.02 L429.44,345.63 L429.59,345.23 L429.74,344.84 L429.89,344.46 L430.04,344.07 L430.19,343.69 L430.35,343.31 L430.5,342.93 L430.65,342.56 L430.8,342.18 L430.95,341.81 L431.1,341.44 L431.25,341.08 L431.4,340.71 L431.55,340.35 L431.7,339.99 L431.86,339.63 L432.01,339.28 L432.16,338.92 L432.31,338.57 L432.46,338.22 L432.61,337.87 L433.69,335.43 L434.77,333.08 L435.86,330.81 L436.94,328.61 L438.02,326.48 L439.1,324.41 L440.18,322.41 L441.26,320.47 L442.35,318.58 L443.43,316.74 L444.51,314.95 L445.59,313.21 L446.67,311.51 L447.75,309.86 L448.84,308.25 L449.92,306.68 L451,305.14 L452.08,303.65 L453.16,302.19 L454.24,300.76 L455.33,299.36 L456.41,298 L457.49,296.67 L458.57,295.37 L459.65,294.1 L460.73,292.85 L461.82,291.63 L462.9,290.44 L463.98,289.27 L465.06,288.13 L466.14,287.01 L467.23,285.92 L468.31,284.85 L469.39,283.8 L470.47,282.77 L471.55,281.76 L472.63,280.77 L473.72,279.8 L474.8,278.86 L475.88,277.92 L476.96,277.01 L478.04,276.12 L479.12,275.24 L480.21,274.38 L481.29,273.54 L482.37,272.71 L483.45,271.89 L484.53,271.1 L485.61,270.31 L486.7,269.55 L487.78,268.79 L488.86,268.05 L489.94,267.33 L491.02,266.61 L492.1,265.91 L493.19,265.22 L494.27,264.55 L495.35,263.88 L496.43,263.23 L497.51,262.59 L498.59,261.96 L499.68,261.34 L500.76,260.74 L501.84,260.14 L502.92,259.55 L504,258.98 L505.08,258.41 L506.17,257.85 L507.25,257.3 L508.33,256.77 L509.41,256.24 L510.49,255.71 L511.57,255.2 L512.66,254.7 L513.74,254.2 L514.82,253.72 L515.9,253.24 L516.98,252.76 L518.06,252.3 L519.15,251.84 L520.23,251.39 L521.31,250.95 L522.39,250.52 L523.47,250.09 L524.55,249.67 L525.64,249.25 L526.72,248.84 L527.8,248.44 L528.88,248.05 L529.96,247.66 L531.04,247.27 L532.13,246.9 L533.21,246.52 L534.29,246.16 L535.37,245.8 L536.45,245.44 L537.54,245.09 L538.62,244.75 L539.7,244.41 L540.78,244.07 L541.86,243.74 L542.94,243.42 L544.03,243.1 L545.11,242.78 L546.19,242.47 L547.27,242.16 L548.35,241.86 L549.43,241.56 L550.52,241.27 L551.6,240.98 L552.68,240.7 L553.76,240.42 L554.84,240.14 L555.92,239.87 L557.01,239.6 L558.09,239.33 L559.17,239.07 L560.25,238.81 L561.33,238.55 L562.41,238.3 L563.5,238.05 L564.58,237.81 L565.66,237.57 L566.74,237.33 L567.82,237.09 L568.9,236.86 L569.99,236.63 L571.07,236.41 L572.15,236.18 L573.23,235.96 L574.31,235.75 L575.39,235.53 L576.48,235.32 L577.56,235.11 L578.64,234.9 L579.72,234.7 L580.8,234.5 L581.88,234.3 L582.97,234.1 L584.05,233.91 L585.13,233.72 L586.21,233.53 L587.29,233.34 L588.37,233.16 L589.46,232.97 L590.54,232.79 L591.62,232.61 L592.7,232.44 L593.78,232.26 L594.86,232.09 L595.95,231.92 L597.03,231.75 L598.11,231.59 L599.19,231.42 L600.27,231.26 L601.35,231.1 L602.44,230.94 L603.52,230.79 L604.6,230.63" fill="none" stroke="#000" stroke-width="1.6" stroke-linejoin="round" stroke-linecap="butt"/>
<text x="610.17" y="233" font-size="11" text-anchor="start" fill="#333" >0</text>
<path d="M423.4,365.4 L423.55,364.94 L423.7,364.44 L423.85,363.93 L424,363.41 L424.15,362.88 L424.31,362.36 L424.46,361.83 L424.61,361.3 L424.76,360.77 L424.91,360.24 L425.06,359.71 L425.21,359.19 L425.36,358.66 L425.51,358.14 L425.66,357.62 L425.82,357.1 L425.97,356.59 L426.12,356.08 L426.27,355.57 L426.42,355.06 L426.57,354.55 L426.72,354.05 L426.87,353.55 L427.02,353.06 L427.17,352.57 L427.33,352.08 L427.48,351.59 L427.63,351.11 L427.78,350.63 L427.93,350.16 L428.08,349.68 L428.23,349.21 L428.38,348.75 L428.53,348.29 L428.69,347.83 L428.84,347.37 L428.99,346.92 L429.14,346.47 L429.29,346.03 L429.44,345.58 L429.59,345.14 L429.74,344.71 L429.89,344.28 L430.04,343.85 L430.19,343.42 L430.35,343 L430.5,342.58 L430.65,342.16 L430.8,341.75 L430.95,341.34 L431.1,340.94 L431.25,340.53 L431.4,340.13 L431.55,339.74 L431.7,339.34 L431.86,338.95 L432.01,338.56 L432.16,338.18 L432.31,337.8 L432.46,337.42 L432.61,337.04 L433.69,334.44 L434.77,331.97 L435.86,329.64 L436.94,327.43 L438.02,325.33 L439.1,323.34 L440.18,321.45 L441.26,319.64 L442.35,317.92 L443.43,316.27 L444.51,314.7 L445.59,313.18 L446.67,311.73 L447.75,310.33 L448.84,308.98 L449.92,307.68 L451,306.42 L452.08,305.2 L453.16,304.02 L454.24,302.88 L455.33,301.76 L456.41,300.68 L457.49,299.62 L458.57,298.59 L459.65,297.58 L460.73,296.6 L461.82,295.63 L462.9,294.69 L463.98,293.77 L465.06,292.87 L466.14,291.98 L467.23,291.11 L468.31,290.26 L469.39,289.42 L470.47,288.6 L471.55,287.79 L472.63,287 L473.72,286.22 L474.8,285.45 L475.88,284.69 L476.96,283.95 L478.04,283.22 L479.12,282.5 L480.21,281.79 L481.29,281.09 L482.37,280.4 L483.45,279.72 L484.53,279.06 L485.61,278.4 L486.7,277.75 L487.78,277.11 L488.86,276.49 L489.94,275.87 L491.02,275.26 L492.1,274.66 L493.19,274.06 L494.27,273.48 L495.35,272.9 L496.43,272.34 L497.51,271.78 L498.59,271.22 L499.68,270.68 L500.76,270.15 L501.84,269.62 L502.92,269.1 L504,268.58 L505.08,268.08 L506.17,267.58 L507.25,267.09 L508.33,266.6 L509.41,266.13 L510.49,265.66 L511.57,265.19 L512.66,264.74 L513.74,264.28 L514.82,263.84 L515.9,263.4 L516.98,262.97 L518.06,262.54 L519.15,262.12 L520.23,261.71 L521.31,261.3 L522.39,260.9 L523.47,260.5 L524.55,260.11 L525.64,259.73 L526.72,259.35 L527.8,258.97 L528.88,258.6 L529.96,258.24 L531.04,257.88 L532.13,257.53 L533.21,257.18 L534.29,256.83 L535.37,256.49 L536.45,256.16 L537.54,255.83 L538.62,255.5 L539.7,255.18 L540.78,254.87 L541.86,254.56 L542.94,254.25 L544.03,253.95 L545.11,253.65 L546.19,253.36 L547.27,253.07 L548.35,252.78 L549.43,252.5 L550.52,252.22 L551.6,251.95 L552.68,251.68 L553.76,251.41 L554.84,251.15 L555.92,250.89 L557.01,250.63 L558.09,250.38 L559.17,250.14 L560.25,249.89 L561.33,249.65 L562.41,249.41 L563.5,249.18 L564.58,248.95 L565.66,248.72 L566.74,248.5 L567.82,248.27 L568.9,248.06 L569.99,247.84 L571.07,247.63 L572.15,247.42 L573.23,247.21 L574.31,247.01 L575.39,246.81 L576.48,246.61 L577.56,246.42 L578.64,246.23 L579.72,246.04 L580.8,245.85 L581.88,245.67 L582.97,245.49 L584.05,245.31 L585.13,245.13 L586.21,244.96 L587.29,244.79 L588.37,244.62 L589.46,244.45 L590.54,244.29 L591.62,244.13 L592.7,243.97 L593.78,243.81 L594.86,243.66 L595.95,243.5 L597.03,243.35 L598.11,243.2 L599.19,243.06 L600.27,242.91 L601.35,242.77 L602.44,242.63 L603.52,242.49 L604.6,242.36" fill="none" stroke="#000" stroke-width="1.6" stroke-linejoin="round" stroke-linecap="butt"/>
<text x="609.76" y="247" font-size="11" text-anchor="start" fill="#333" >10</text>
<path d="M423.4,365.4 L423.55,365.13 L423.7,364.78 L423.85,364.39 L424,363.96 L424.15,363.52 L424.31,363.05 L424.46,362.57 L424.61,362.07 L424.76,361.56 L424.91,361.04 L425.06,360.51 L425.21,359.98 L425.36,359.44 L425.51,358.89 L425.66,358.34 L425.82,357.79 L425.97,357.24 L426.12,356.68 L426.27,356.13 L426.42,355.58 L426.57,355.02 L426.72,354.47 L426.87,353.92 L427.02,353.38 L427.17,352.83 L427.33,352.29 L427.48,351.76 L427.63,351.22 L427.78,350.7 L427.93,350.17 L428.08,349.66 L428.23,349.14 L428.38,348.63 L428.53,348.13 L428.69,347.64 L428.84,347.14 L428.99,346.66 L429.14,346.18 L429.29,345.71 L429.44,345.24 L429.59,344.78 L429.74,344.33 L429.89,343.88 L430.04,343.44 L430.19,343 L430.35,342.58 L430.5,342.15 L430.65,341.74 L430.8,341.33 L430.95,340.93 L431.1,340.53 L431.25,340.14 L431.4,339.76 L431.55,339.38 L431.7,339.01 L431.86,338.64 L432.01,338.28 L432.16,337.93 L432.31,337.58 L432.46,337.24 L432.61,336.9 L433.69,334.65 L434.77,332.66 L435.86,330.89 L436.94,329.3 L438.02,327.87 L439.1,326.57 L440.18,325.38 L441.26,324.27 L442.35,323.23 L443.43,322.24 L444.51,321.3 L445.59,320.4 L446.67,319.52 L447.75,318.67 L448.84,317.84 L449.92,317.02 L451,316.23 L452.08,315.44 L453.16,314.67 L454.24,313.91 L455.33,313.17 L456.41,312.43 L457.49,311.7 L458.57,310.99 L459.65,310.28 L460.73,309.58 L461.82,308.89 L462.9,308.21 L463.98,307.54 L465.06,306.88 L466.14,306.23 L467.23,305.59 L468.31,304.95 L469.39,304.32 L470.47,303.7 L471.55,303.09 L472.63,302.49 L473.72,301.9 L474.8,301.31 L475.88,300.73 L476.96,300.16 L478.04,299.59 L479.12,299.04 L480.21,298.49 L481.29,297.94 L482.37,297.41 L483.45,296.88 L484.53,296.36 L485.61,295.84 L486.7,295.34 L487.78,294.83 L488.86,294.34 L489.94,293.85 L491.02,293.37 L492.1,292.89 L493.19,292.43 L494.27,291.96 L495.35,291.51 L496.43,291.05 L497.51,290.61 L498.59,290.17 L499.68,289.74 L500.76,289.31 L501.84,288.89 L502.92,288.47 L504,288.06 L505.08,287.65 L506.17,287.25 L507.25,286.86 L508.33,286.47 L509.41,286.08 L510.49,285.7 L511.57,285.33 L512.66,284.96 L513.74,284.59 L514.82,284.23 L515.9,283.88 L516.98,283.53 L518.06,283.18 L519.15,282.84 L520.23,282.5 L521.31,282.17 L522.39,281.84 L523.47,281.51 L524.55,281.19 L525.64,280.88 L526.72,280.57 L527.8,280.26 L528.88,279.96 L529.96,279.66 L531.04,279.36 L532.13,279.07 L533.21,278.78 L534.29,278.5 L535.37,278.22 L536.45,277.94 L537.54,277.67 L538.62,277.4 L539.7,277.13 L540.78,276.87 L541.86,276.61 L542.94,276.35 L544.03,276.1 L545.11,275.85 L546.19,275.61 L547.27,275.36 L548.35,275.13 L549.43,274.89 L550.52,274.66 L551.6,274.43 L552.68,274.2 L553.76,273.97 L554.84,273.75 L555.92,273.54 L557.01,273.32 L558.09,273.11 L559.17,272.9 L560.25,272.69 L561.33,272.49 L562.41,272.28 L563.5,272.09 L564.58,271.89 L565.66,271.7 L566.74,271.5 L567.82,271.32 L568.9,271.13 L569.99,270.95 L571.07,270.76 L572.15,270.59 L573.23,270.41 L574.31,270.23 L575.39,270.06 L576.48,269.89 L577.56,269.72 L578.64,269.56 L579.72,269.4 L580.8,269.24 L581.88,269.08 L582.97,268.92 L584.05,268.76 L585.13,268.61 L586.21,268.46 L587.29,268.31 L588.37,268.17 L589.46,268.02 L590.54,267.88 L591.62,267.74 L592.7,267.6 L593.78,267.46 L594.86,267.32 L595.95,267.19 L597.03,267.06 L598.11,266.93 L599.19,266.8 L600.27,266.67 L601.35,266.55 L602.44,266.42 L603.52,266.3 L604.6,266.18" fill="none" stroke="#000" stroke-width="1.6" stroke-linejoin="round" stroke-linecap="butt"/>
<text x="610.05" y="270" font-size="11" text-anchor="start" fill="#333" >20</text>
<path d="M423.4,365.4 L423.55,365.2 L423.7,364.96 L423.85,364.7 L424,364.42 L424.15,364.12 L424.31,363.82 L424.46,363.51 L424.61,363.19 L424.76,362.87 L424.91,362.54 L425.06,362.21 L425.21,361.88 L425.36,361.54 L425.51,361.21 L425.66,360.87 L425.82,360.53 L425.97,360.19 L426.12,359.85 L426.27,359.52 L426.42,359.18 L426.57,358.85 L426.72,358.51 L426.87,358.18 L427.02,357.85 L427.17,357.53 L427.33,357.2 L427.48,356.88 L427.63,356.56 L427.78,356.25 L427.93,355.93 L428.08,355.62 L428.23,355.32 L428.38,355.01 L428.53,354.71 L428.69,354.42 L428.84,354.12 L428.99,353.83 L429.14,353.55 L429.29,353.26 L429.44,352.98 L429.59,352.71 L429.74,352.44 L429.89,352.17 L430.04,351.9 L430.19,351.64 L430.35,351.38 L430.5,351.13 L430.65,350.88 L430.8,350.63 L430.95,350.39 L431.1,350.15 L431.25,349.91 L431.4,349.68 L431.55,349.45 L431.7,349.22 L431.86,349 L432.01,348.78 L432.16,348.56 L432.31,348.34 L432.46,348.13 L432.61,347.93 L433.69,346.52 L434.77,345.24 L435.86,344.07 L436.94,343 L438.02,342.01 L439.1,341.08 L440.18,340.21 L441.26,339.38 L442.35,338.58 L443.43,337.81 L444.51,337.07 L445.59,336.34 L446.67,335.63 L447.75,334.94 L448.84,334.25 L449.92,333.58 L451,332.92 L452.08,332.26 L453.16,331.62 L454.24,330.98 L455.33,330.35 L456.41,329.73 L457.49,329.12 L458.57,328.51 L459.65,327.91 L460.73,327.32 L461.82,326.73 L462.9,326.15 L463.98,325.57 L465.06,325.01 L466.14,324.44 L467.23,323.89 L468.31,323.34 L469.39,322.8 L470.47,322.26 L471.55,321.73 L472.63,321.2 L473.72,320.68 L474.8,320.17 L475.88,319.66 L476.96,319.16 L478.04,318.66 L479.12,318.17 L480.21,317.69 L481.29,317.21 L482.37,316.73 L483.45,316.26 L484.53,315.8 L485.61,315.34 L486.7,314.88 L487.78,314.43 L488.86,313.99 L489.94,313.55 L491.02,313.11 L492.1,312.68 L493.19,312.26 L494.27,311.84 L495.35,311.42 L496.43,311.01 L497.51,310.6 L498.59,310.2 L499.68,309.81 L500.76,309.41 L501.84,309.02 L502.92,308.64 L504,308.26 L505.08,307.88 L506.17,307.51 L507.25,307.14 L508.33,306.78 L509.41,306.42 L510.49,306.06 L511.57,305.71 L512.66,305.36 L513.74,305.02 L514.82,304.68 L515.9,304.34 L516.98,304.01 L518.06,303.68 L519.15,303.36 L520.23,303.03 L521.31,302.72 L522.39,302.4 L523.47,302.09 L524.55,301.78 L525.64,301.48 L526.72,301.18 L527.8,300.88 L528.88,300.58 L529.96,300.29 L531.04,300.01 L532.13,299.72 L533.21,299.44 L534.29,299.16 L535.37,298.89 L536.45,298.61 L537.54,298.34 L538.62,298.08 L539.7,297.81 L540.78,297.55 L541.86,297.3 L542.94,297.04 L544.03,296.79 L545.11,296.54 L546.19,296.29 L547.27,296.05 L548.35,295.81 L549.43,295.57 L550.52,295.34 L551.6,295.1 L552.68,294.87 L553.76,294.64 L554.84,294.42 L555.92,294.2 L557.01,293.98 L558.09,293.76 L559.17,293.54 L560.25,293.33 L561.33,293.12 L562.41,292.91 L563.5,292.7 L564.58,292.5 L565.66,292.3 L566.74,292.1 L567.82,291.9 L568.9,291.71 L569.99,291.51 L571.07,291.32 L572.15,291.13 L573.23,290.95 L574.31,290.76 L575.39,290.58 L576.48,290.4 L577.56,290.22 L578.64,290.05 L579.72,289.87 L580.8,289.7 L581.88,289.53 L582.97,289.36 L584.05,289.19 L585.13,289.03 L586.21,288.86 L587.29,288.7 L588.37,288.54 L589.46,288.39 L590.54,288.23 L591.62,288.08 L592.7,287.92 L593.78,287.77 L594.86,287.62 L595.95,287.47 L597.03,287.33 L598.11,287.18 L599.19,287.04 L600.27,286.9 L601.35,286.76 L602.44,286.62 L603.52,286.49 L604.6,286.35" fill="none" stroke="#000" stroke-width="1.6" stroke-linejoin="round" stroke-linecap="butt"/>
<text x="610.16" y="290.2" font-size="11" text-anchor="start" fill="#333" >50</text>
<rect x="50.6" y="415.1" width="128.7" height="121.5" fill="none" stroke="#2a2a2a" stroke-width="1.45"/>
<line x1="50.6" y1="512.3" x2="57.6" y2="512.3" stroke="#2a2a2a" stroke-width="1.4"/>
<line x1="50.6" y1="488" x2="57.6" y2="488" stroke="#2a2a2a" stroke-width="1.4"/>
<line x1="50.6" y1="463.7" x2="57.6" y2="463.7" stroke="#2a2a2a" stroke-width="1.4"/>
<line x1="50.6" y1="439.4" x2="57.6" y2="439.4" stroke="#2a2a2a" stroke-width="1.4"/>
<line x1="114.95" y1="536.6" x2="114.95" y2="529.6" stroke="#2a2a2a" stroke-width="1.4"/>
<text x="44.3" y="540.5" font-size="11.4" text-anchor="end" fill="#333" >0</text>
<text x="44.3" y="516.2" font-size="11.4" text-anchor="end" fill="#333" >50</text>
<text x="44.3" y="491.9" font-size="11.4" text-anchor="end" fill="#333" >100</text>
<text x="44.3" y="467.6" font-size="11.4" text-anchor="end" fill="#333" >150</text>
<text x="44.3" y="443.3" font-size="11.4" text-anchor="end" fill="#333" >200</text>
<text x="44.3" y="419" font-size="11.4" text-anchor="end" fill="#333" >250</text>
<text x="50.6" y="553.1" font-size="11.4" text-anchor="middle" fill="#333" >3</text>
<text x="114.95" y="553.1" font-size="11.4" text-anchor="middle" fill="#333" >4</text>
<text x="179.3" y="553.1" font-size="11.4" text-anchor="middle" fill="#333" >5</text>
<text x="0" y="0" font-size="11.2" text-anchor="middle" fill="#333" transform="translate(14.8,476.5) rotate(-90)">AU</text>
<text x="6" y="419.5" font-size="13" text-anchor="start" fill="#333" style="stroke-width:0.55px">E</text>
<text x="71.3" y="575.3" font-size="11.5" fill="#333" xml:space="preserve">log [ Ins<tspan font-style="italic">P</tspan><tspan dy="6.0" font-size="11">6</tspan><tspan dy="-6.0"> (nM) ]</tspan></text>
<text x="63.6" y="508.5" font-size="10.3" text-anchor="start" fill="#333" style="stroke-width:0.1px">IC50 =</text>
<text x="65.3" y="521.8" font-size="10.3" text-anchor="start" fill="#333" style="stroke-width:0.1px">14 µM</text>
<path d="M50.6,436.19 L51.98,436.37 L53.37,436.56 L54.75,436.76 L56.14,436.98 L57.52,437.21 L58.9,437.45 L60.29,437.72 L61.67,438 L63.06,438.3 L64.44,438.62 L65.82,438.96 L67.21,439.32 L68.59,439.71 L69.98,440.12 L71.36,440.55 L72.74,441.02 L74.13,441.51 L75.51,442.03 L76.89,442.58 L78.28,443.17 L79.66,443.79 L81.05,444.45 L82.43,445.14 L83.81,445.87 L85.2,446.64 L86.58,447.45 L87.97,448.31 L89.35,449.2 L90.73,450.14 L92.12,451.12 L93.5,452.15 L94.89,453.22 L96.27,454.34 L97.65,455.5 L99.04,456.71 L100.42,457.96 L101.81,459.25 L103.19,460.59 L104.57,461.97 L105.96,463.38 L107.34,464.83 L108.73,466.32 L110.11,467.84 L111.49,469.38 L112.88,470.95 L114.26,472.55 L115.64,474.16 L117.03,475.79 L118.41,477.42 L119.8,479.07 L121.18,480.72 L122.56,482.36 L123.95,484 L125.33,485.63 L126.72,487.24 L128.1,488.84 L129.48,490.42 L130.87,491.97 L132.25,493.49 L133.64,494.98 L135.02,496.44 L136.4,497.86 L137.79,499.25 L139.17,500.59 L140.56,501.89 L141.94,503.15 L143.32,504.37 L144.71,505.54 L146.09,506.66 L147.48,507.74 L148.86,508.78 L150.24,509.77 L151.63,510.71 L153.01,511.62 L154.39,512.48 L155.78,513.3 L157.16,514.07 L158.55,514.81 L159.93,515.51" fill="none" stroke="#000" stroke-width="1.5" stroke-linejoin="round" stroke-linecap="butt"/>
<circle cx="50.6" cy="434.15" r="3.3" fill="#000"/>
<circle cx="69.97" cy="438.19" r="3.3" fill="#000"/>
<circle cx="95.58" cy="452.38" r="3.3" fill="#000"/>
<circle cx="114.95" cy="478.04" r="3.3" fill="#000"/>
<circle cx="134.32" cy="495.78" r="3.3" fill="#000"/>
<circle cx="159.93" cy="514.58" r="3.3" fill="#000"/>
<rect x="231.8" y="415.1" width="129" height="121.5" fill="none" stroke="#2a2a2a" stroke-width="1.45"/>
<line x1="231.8" y1="512.3" x2="238.8" y2="512.3" stroke="#2a2a2a" stroke-width="1.4"/>
<line x1="231.8" y1="488" x2="238.8" y2="488" stroke="#2a2a2a" stroke-width="1.4"/>
<line x1="231.8" y1="463.7" x2="238.8" y2="463.7" stroke="#2a2a2a" stroke-width="1.4"/>
<line x1="231.8" y1="439.4" x2="238.8" y2="439.4" stroke="#2a2a2a" stroke-width="1.4"/>
<line x1="296.3" y1="536.6" x2="296.3" y2="529.6" stroke="#2a2a2a" stroke-width="1.4"/>
<text x="225.5" y="540.5" font-size="11.4" text-anchor="end" fill="#333" >0</text>
<text x="225.5" y="516.2" font-size="11.4" text-anchor="end" fill="#333" >50</text>
<text x="225.5" y="491.9" font-size="11.4" text-anchor="end" fill="#333" >100</text>
<text x="225.5" y="467.6" font-size="11.4" text-anchor="end" fill="#333" >150</text>
<text x="225.5" y="443.3" font-size="11.4" text-anchor="end" fill="#333" >200</text>
<text x="225.5" y="419" font-size="11.4" text-anchor="end" fill="#333" >250</text>
<text x="231.8" y="553.1" font-size="11.4" text-anchor="middle" fill="#333" >3</text>
<text x="296.3" y="553.1" font-size="11.4" text-anchor="middle" fill="#333" >4</text>
<text x="360.8" y="553.1" font-size="11.4" text-anchor="middle" fill="#333" >5</text>
<text x="0" y="0" font-size="11.2" text-anchor="middle" fill="#333" transform="translate(195.9,476.3) rotate(-90)">AU</text>
<text x="187.5" y="419.5" font-size="13" text-anchor="start" fill="#333" style="stroke-width:0.55px">F</text>
<text x="246.9" y="575.3" font-size="11.5" fill="#333" xml:space="preserve">log [ 5-Ins<tspan font-style="italic">P</tspan><tspan dy="6.0" font-size="11">7</tspan><tspan dy="-6.0"> (nM) ]</tspan></text>
<text x="244.6" y="508.5" font-size="10.3" text-anchor="start" fill="#333" style="stroke-width:0.1px">IC50 =</text>
<text x="248.7" y="521.8" font-size="10.3" text-anchor="start" fill="#333" style="stroke-width:0.1px">7 µM</text>
<path d="M231.8,441.5 L233.18,442.02 L234.56,442.57 L235.94,443.14 L237.32,443.73 L238.7,444.36 L240.08,445.01 L241.46,445.7 L242.84,446.41 L244.22,447.16 L245.6,447.93 L246.98,448.74 L248.36,449.58 L249.74,450.46 L251.12,451.37 L252.5,452.31 L253.88,453.29 L255.26,454.3 L256.64,455.34 L258.02,456.42 L259.4,457.54 L260.78,458.69 L262.16,459.87 L263.54,461.09 L264.92,462.33 L266.3,463.61 L267.68,464.92 L269.05,466.26 L270.43,467.62 L271.81,469.01 L273.19,470.42 L274.57,471.86 L275.95,473.32 L277.33,474.79 L278.71,476.28 L280.09,477.78 L281.47,479.3 L282.85,480.82 L284.23,482.35 L285.61,483.88 L286.99,485.42 L288.37,486.95 L289.75,488.47 L291.13,489.99 L292.51,491.5 L293.89,493 L295.27,494.48 L296.65,495.95 L298.03,497.4 L299.41,498.82 L300.79,500.22 L302.17,501.6 L303.55,502.95 L304.93,504.28 L306.31,505.57 L307.69,506.84 L309.07,508.07 L310.45,509.27 L311.83,510.44 L313.21,511.57 L314.59,512.67 L315.97,513.73 L317.35,514.76 L318.73,515.76 L320.11,516.72 L321.49,517.65 L322.87,518.54 L324.25,519.4 L325.63,520.22 L327.01,521.02 L328.39,521.78 L329.77,522.51 L331.15,523.21 L332.53,523.88 L333.91,524.52 L335.29,525.13 L336.67,525.72 L338.05,526.27 L339.43,526.81 L340.81,527.32" fill="none" stroke="#000" stroke-width="1.5" stroke-linejoin="round" stroke-linecap="butt"/>
<circle cx="231.8" cy="437.07" r="3.3" fill="#000"/>
<circle cx="251.21" cy="454.08" r="3.3" fill="#000"/>
<circle cx="276.89" cy="474.54" r="3.3" fill="#000"/>
<circle cx="296.3" cy="493.35" r="3.3" fill="#000"/>
<circle cx="315.71" cy="518.38" r="3.3" fill="#000"/>
<circle cx="341.39" cy="523.87" r="3.3" fill="#000"/>
<rect x="418.7" y="415.1" width="128.9" height="121.5" fill="none" stroke="#2a2a2a" stroke-width="1.45"/>
<line x1="418.7" y1="512.3" x2="425.7" y2="512.3" stroke="#2a2a2a" stroke-width="1.4"/>
<line x1="418.7" y1="488" x2="425.7" y2="488" stroke="#2a2a2a" stroke-width="1.4"/>
<line x1="418.7" y1="463.7" x2="425.7" y2="463.7" stroke="#2a2a2a" stroke-width="1.4"/>
<line x1="418.7" y1="439.4" x2="425.7" y2="439.4" stroke="#2a2a2a" stroke-width="1.4"/>
<line x1="483.15" y1="536.6" x2="483.15" y2="529.6" stroke="#2a2a2a" stroke-width="1.4"/>
<text x="412.4" y="540.5" font-size="11.4" text-anchor="end" fill="#333" >0</text>
<text x="412.4" y="516.2" font-size="11.4" text-anchor="end" fill="#333" >50</text>
<text x="412.4" y="491.9" font-size="11.4" text-anchor="end" fill="#333" >100</text>
<text x="412.4" y="467.6" font-size="11.4" text-anchor="end" fill="#333" >150</text>
<text x="412.4" y="443.3" font-size="11.4" text-anchor="end" fill="#333" >200</text>
<text x="412.4" y="419" font-size="11.4" text-anchor="end" fill="#333" >250</text>
<text x="418.7" y="553.1" font-size="11.4" text-anchor="middle" fill="#333" >3</text>
<text x="483.15" y="553.1" font-size="11.4" text-anchor="middle" fill="#333" >4</text>
<text x="547.6" y="553.1" font-size="11.4" text-anchor="middle" fill="#333" >5</text>
<text x="0" y="0" font-size="11.2" text-anchor="middle" fill="#333" transform="translate(382.8,476.3) rotate(-90)">AU</text>
<text x="374.2" y="419.5" font-size="13" text-anchor="start" fill="#333" style="stroke-width:0.55px">G</text>
<text x="434.1" y="575.3" font-size="11.5" fill="#333" xml:space="preserve">log [ 1-Ins<tspan font-style="italic">P</tspan><tspan dy="6.0" font-size="11">7</tspan><tspan dy="-6.0"> (nM) ]</tspan></text>
<text x="432.3" y="508.5" font-size="10.3" text-anchor="start" fill="#333" style="stroke-width:0.1px">IC50 =</text>
<text x="434" y="521.8" font-size="10.3" text-anchor="start" fill="#333" style="stroke-width:0.1px">45 µM</text>
<path d="M418.7,435.57 L420.09,435.66 L421.47,435.75 L422.86,435.85 L424.24,435.96 L425.63,436.07 L427.02,436.19 L428.4,436.31 L429.79,436.44 L431.17,436.58 L432.56,436.73 L433.95,436.88 L435.33,437.04 L436.72,437.21 L438.11,437.39 L439.49,437.57 L440.88,437.77 L442.26,437.98 L443.65,438.19 L445.04,438.42 L446.42,438.66 L447.81,438.91 L449.19,439.18 L450.58,439.45 L451.97,439.74 L453.35,440.05 L454.74,440.37 L456.12,440.7 L457.51,441.05 L458.9,441.42 L460.28,441.8 L461.67,442.2 L463.05,442.62 L464.44,443.06 L465.83,443.52 L467.21,444 L468.6,444.49 L469.99,445.01 L471.37,445.55 L472.76,446.11 L474.14,446.7 L475.53,447.3 L476.92,447.93 L478.3,448.59 L479.69,449.27 L481.07,449.97 L482.46,450.69 L483.85,451.45 L485.23,452.22 L486.62,453.02 L488,453.84 L489.39,454.69 L490.78,455.57 L492.16,456.46 L493.55,457.38 L494.93,458.32 L496.32,459.29 L497.71,460.27 L499.09,461.28 L500.48,462.3 L501.86,463.35 L503.25,464.41 L504.64,465.49 L506.02,466.58 L507.41,467.69 L508.8,468.81 L510.18,469.94 L511.57,471.08 L512.95,472.22 L514.34,473.38 L515.73,474.53 L517.11,475.69 L518.5,476.85 L519.88,478.01 L521.27,479.17 L522.66,480.32 L524.04,481.46 L525.43,482.6 L526.81,483.73 L528.2,484.84" fill="none" stroke="#000" stroke-width="1.5" stroke-linejoin="round" stroke-linecap="butt"/>
<circle cx="483.15" cy="448.2" r="3.3" fill="#000"/>
<circle cx="502.55" cy="468.12" r="3.3" fill="#000"/>
<circle cx="528.2" cy="484.74" r="3.3" fill="#000"/>
<rect x="611.9" y="415.1" width="128.9" height="121.5" fill="none" stroke="#2a2a2a" stroke-width="1.45"/>
<line x1="611.9" y1="512.3" x2="618.9" y2="512.3" stroke="#2a2a2a" stroke-width="1.4"/>
<line x1="611.9" y1="488" x2="618.9" y2="488" stroke="#2a2a2a" stroke-width="1.4"/>
<line x1="611.9" y1="463.7" x2="618.9" y2="463.7" stroke="#2a2a2a" stroke-width="1.4"/>
<line x1="611.9" y1="439.4" x2="618.9" y2="439.4" stroke="#2a2a2a" stroke-width="1.4"/>
<line x1="676.35" y1="536.6" x2="676.35" y2="529.6" stroke="#2a2a2a" stroke-width="1.4"/>
<text x="605.6" y="540.5" font-size="11.4" text-anchor="end" fill="#333" >0</text>
<text x="605.6" y="516.2" font-size="11.4" text-anchor="end" fill="#333" >50</text>
<text x="605.6" y="491.9" font-size="11.4" text-anchor="end" fill="#333" >100</text>
<text x="605.6" y="467.6" font-size="11.4" text-anchor="end" fill="#333" >150</text>
<text x="605.6" y="443.3" font-size="11.4" text-anchor="end" fill="#333" >200</text>
<text x="605.6" y="419" font-size="11.4" text-anchor="end" fill="#333" >250</text>
<text x="611.9" y="553.1" font-size="11.4" text-anchor="middle" fill="#333" >3</text>
<text x="676.35" y="553.1" font-size="11.4" text-anchor="middle" fill="#333" >4</text>
<text x="740.8" y="553.1" font-size="11.4" text-anchor="middle" fill="#333" >5</text>
<text x="0" y="0" font-size="11.2" text-anchor="middle" fill="#333" transform="translate(576,476.3) rotate(-90)">AU</text>
<text x="567.6" y="419.5" font-size="13" text-anchor="start" fill="#333" style="stroke-width:0.55px">H</text>
<text x="632.7" y="575.3" font-size="11.5" fill="#333" xml:space="preserve">log [ Ins<tspan font-style="italic">P</tspan><tspan dy="6.0" font-size="11">8</tspan><tspan dy="-6.0"> (nM) ]</tspan></text>
<text x="624.6" y="508.5" font-size="10.3" text-anchor="start" fill="#333" style="stroke-width:0.1px">IC50 &gt;</text>
<text x="626.3" y="521.8" font-size="10.3" text-anchor="start" fill="#333" style="stroke-width:0.1px">50 µM</text>
<path d="M611.9,434.02 L613.29,434.08 L614.67,434.15 L616.06,434.22 L617.44,434.29 L618.83,434.37 L620.22,434.45 L621.6,434.54 L622.99,434.63 L624.37,434.73 L625.76,434.83 L627.15,434.95 L628.53,435.06 L629.92,435.19 L631.31,435.32 L632.69,435.46 L634.08,435.6 L635.46,435.76 L636.85,435.92 L638.24,436.09 L639.62,436.28 L641.01,436.47 L642.39,436.67 L643.78,436.89 L645.17,437.11 L646.55,437.35 L647.94,437.6 L649.32,437.87 L650.71,438.15 L652.1,438.44 L653.48,438.75 L654.87,439.07 L656.25,439.41 L657.64,439.77 L659.03,440.15 L660.41,440.54 L661.8,440.95 L663.19,441.38 L664.57,441.83 L665.96,442.31 L667.34,442.8 L668.73,443.32 L670.12,443.85 L671.5,444.41 L672.89,444.99 L674.27,445.6 L675.66,446.23 L677.05,446.88 L678.43,447.55 L679.82,448.25 L681.2,448.98 L682.59,449.72 L683.98,450.49 L685.36,451.28 L686.75,452.09 L688.13,452.93 L689.52,453.79 L690.91,454.66 L692.29,455.56 L693.68,456.47 L695.06,457.4 L696.45,458.35 L697.84,459.31 L699.22,460.28 L700.61,461.27 L702,462.26 L703.38,463.27 L704.77,464.28 L706.15,465.29 L707.54,466.31 L708.93,467.33 L710.31,468.34 L711.7,469.36 L713.08,470.37 L714.47,471.37 L715.86,472.37 L717.24,473.36 L718.63,474.33 L720.01,475.29 L721.4,476.24" fill="none" stroke="#000" stroke-width="1.5" stroke-linejoin="round" stroke-linecap="butt"/>
<circle cx="676.35" cy="441.98" r="3.3" fill="#000"/>
<circle cx="695.75" cy="460.83" r="3.3" fill="#000"/>
<circle cx="721.4" cy="476.34" r="3.3" fill="#000"/>
</svg>
</body></html>
